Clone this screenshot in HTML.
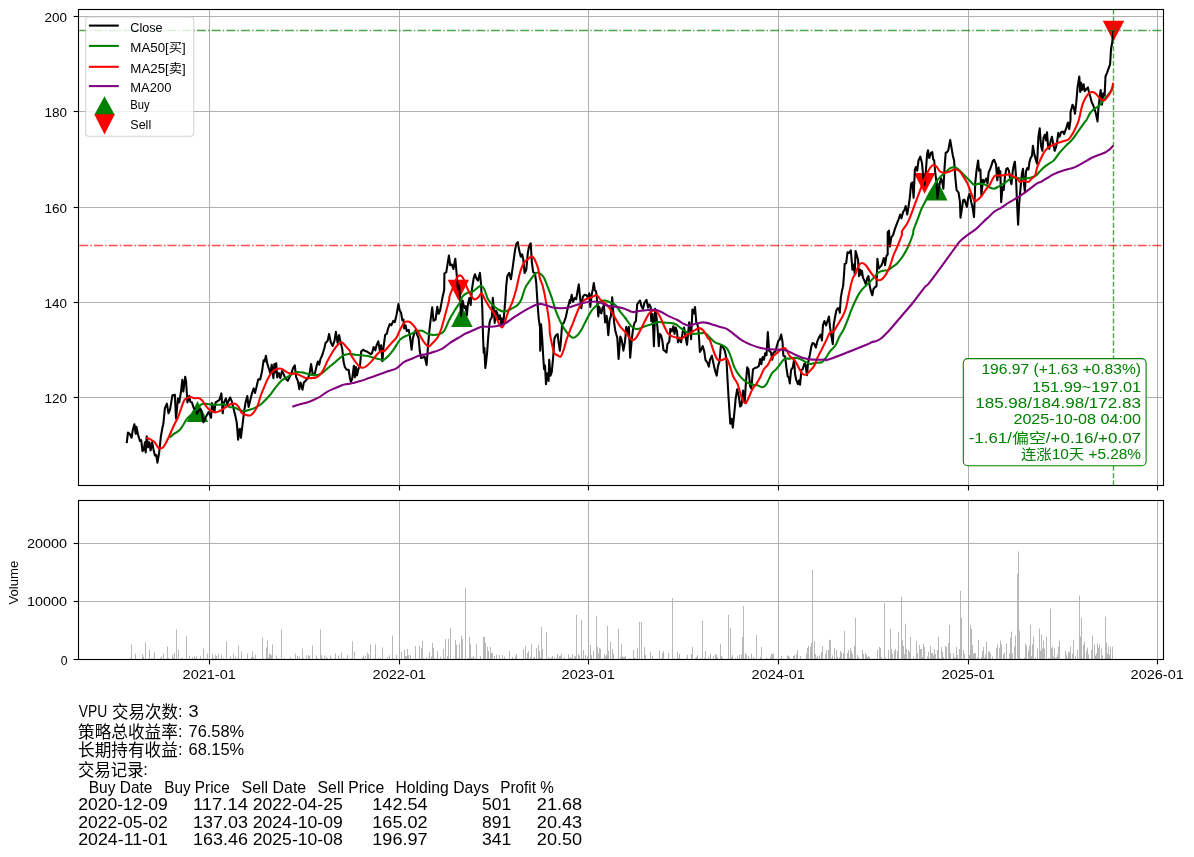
<!DOCTYPE html>
<html lang="zh"><head><meta charset="utf-8"><title>VPU</title>
<style>html,body{margin:0;padding:0;background:#fff}svg{display:block}</style></head>
<body>
<svg width="1194" height="857" viewBox="0 0 1194 857" font-family='"Liberation Sans","Noto Sans CJK SC",sans-serif'>
<rect width="1194" height="857" fill="#fff"/>
<g stroke="#b0b0b0" stroke-width="1" fill="none">
<path d="M209.5 9.5V485.5"/>
<path d="M399.5 9.5V485.5"/>
<path d="M588.5 9.5V485.5"/>
<path d="M778.5 9.5V485.5"/>
<path d="M968.5 9.5V485.5"/>
<path d="M1157.5 9.5V485.5"/>
<path d="M78.5 16.5H1163.5"/>
<path d="M78.5 111.5H1163.5"/>
<path d="M78.5 207.5H1163.5"/>
<path d="M78.5 302.5H1163.5"/>
<path d="M78.5 397.5H1163.5"/>
<path d="M209.5 500.5V659.5"/>
<path d="M399.5 500.5V659.5"/>
<path d="M588.5 500.5V659.5"/>
<path d="M778.5 500.5V659.5"/>
<path d="M968.5 500.5V659.5"/>
<path d="M1157.5 500.5V659.5"/>
<path d="M78.5 543.5H1163.5"/>
<path d="M78.5 601.5H1163.5"/>
</g>
<path d="M186.8 421.9L197.5 401.1L208.2 421.9Z" fill="#008000"/>
<path d="M451.2 326.9L461.9 306.1L472.6 326.9Z" fill="#008000"/>
<path d="M926.1 200.4L936.8 179.6L947.5 200.4Z" fill="#008000"/>
<path d="M447.7 279.8L458.4 300.6L469.1 279.8Z" fill="#ff0000"/>
<path d="M913.9 173.0L924.6 193.8L935.3 173.0Z" fill="#ff0000"/>
<path d="M1102.8 20.7L1113.5 41.5L1124.2 20.7Z" fill="#ff0000"/>
<g fill="none" stroke-linejoin="round" stroke-linecap="butt" stroke-width="2.08">
<path d="M126.7 443.2 L128.0 432.5 L129.6 433.8 L131.6 437.7 L132.8 430.0 L134.4 424.2 L135.7 433.8 L136.4 426.8 L138.0 434.5 L139.9 440.9 L141.2 440.2 L142.5 451.1 L143.7 449.9 L145.0 442.2 L145.7 452.4 L146.7 436.4 L148.2 447.3 L149.3 442.2 L150.6 450.5 L152.1 442.2 L153.6 449.9 L154.9 455.6 L156.3 455.0 L157.4 462.7 L159.2 452.4 L160.8 437.0 L162.1 429.3 L163.4 423.5 L164.9 408.1 L166.9 403.6 L168.5 413.3 L170.1 409.4 L172.4 395.3 L174.9 394.9 L176.0 418.4 L178.0 398.5 L179.3 402.4 L181.0 391.5 L182.3 379.9 L183.3 391.5 L185.2 376.7 L186.1 381.8 L187.4 402.4 L189.3 395.9 L190.3 401.7 L191.9 402.4 L193.8 408.1 L195.7 409.4 L197.0 413.9 L198.3 411.3 L200.2 408.8 L201.5 411.3 L203.4 422.3 L205.4 417.8 L208.6 412.0 L211.1 417.8 L211.9 403.0 L213.7 409.4 L214.4 412.0 L215.6 402.4 L217.6 401.1 L219.5 399.8 L221.4 393.4 L222.7 413.3 L224.0 402.4 L225.9 398.5 L227.2 404.3 L230.1 397.5 L231.7 401.1 L233.6 408.8 L235.5 416.5 L236.8 422.9 L238.1 439.6 L239.4 429.3 L240.0 428.8 L240.9 437.8 L242.8 422.4 L244.4 409.6 L245.7 401.9 L247.3 396.1 L248.6 407.0 L250.5 399.3 L252.1 392.9 L253.7 388.4 L255.0 392.9 L256.3 387.8 L258.2 379.4 L260.2 379.4 L262.1 371.1 L263.6 360.2 L264.7 361.5 L265.9 355.7 L267.2 363.4 L269.2 369.8 L270.4 373.6 L271.7 364.7 L273.4 378.1 L274.3 364.0 L275.2 372.4 L276.2 363.4 L277.2 377.5 L278.8 373.0 L280.3 378.1 L282.0 371.1 L283.7 374.3 L285.2 378.1 L287.8 380.7 L289.7 376.9 L291.6 372.4 L293.2 367.9 L294.8 365.3 L296.1 376.9 L298.0 381.3 L299.3 389.1 L300.6 382.6 L302.5 389.7 L303.8 382.6 L305.7 380.7 L308.3 377.5 L309.8 372.4 L311.1 364.0 L312.8 374.9 L314.7 374.3 L316.6 365.9 L317.9 361.5 L319.2 364.7 L320.5 358.9 L321.8 356.3 L322.7 353.7 L324.4 348.0 L325.6 342.8 L327.6 340.9 L329.1 333.9 L330.8 342.2 L332.7 346.0 L334.6 340.3 L335.9 331.9 L337.6 342.8 L339.1 335.1 L340.7 342.8 L342.3 349.3 L343.6 362.1 L344.9 367.2 L346.8 369.8 L348.7 369.8 L350.0 378.8 L350.9 381.8 L352.2 378.6 L353.9 365.7 L354.8 377.3 L356.0 367.0 L356.9 375.4 L358.6 368.3 L359.9 367.0 L361.2 351.6 L363.1 349.7 L365.0 351.0 L367.0 351.6 L368.9 352.9 L370.8 354.2 L372.1 352.9 L373.6 347.1 L375.3 350.3 L376.6 345.2 L378.3 341.3 L379.8 350.3 L381.1 345.2 L382.4 361.2 L383.6 346.5 L385.2 334.9 L386.9 333.6 L388.1 328.5 L389.8 324.0 L391.3 325.3 L393.3 320.8 L394.9 322.1 L396.5 315.0 L398.4 304.1 L399.7 310.5 L401.0 312.5 L402.3 320.2 L403.5 319.5 L404.2 328.5 L405.5 325.3 L406.8 331.1 L408.7 329.8 L410.0 336.9 L411.6 349.7 L412.9 338.1 L414.2 333.6 L415.7 329.8 L417.0 334.3 L418.6 338.1 L419.8 351.0 L421.1 358.0 L422.8 357.4 L424.7 356.8 L426.6 365.1 L427.9 347.8 L429.2 332.4 L430.5 320.8 L432.2 307.3 L433.5 320.8 L435.6 319.5 L437.3 306.7 L438.6 313.7 L440.1 310.5 L441.7 301.6 L442.7 296.4 L444.2 290.0 L444.4 273.5 L446.3 272.2 L447.6 263.9 L448.9 255.5 L450.2 265.2 L451.8 264.5 L453.4 269.0 L455.3 258.7 L456.6 273.5 L457.9 288.9 L459.2 285.7 L460.1 299.2 L461.1 315.9 L462.6 300.5 L464.3 308.2 L465.6 306.2 L466.9 315.2 L467.8 305.0 L469.4 297.9 L470.7 305.0 L472.0 288.9 L473.7 278.0 L474.9 274.2 L476.5 278.6 L478.0 280.6 L479.9 272.9 L481.0 283.8 L482.3 308.2 L483.1 338.5 L483.7 352.6 L484.4 348.1 L485.3 368.0 L486.3 360.3 L487.2 351.3 L488.2 337.2 L489.5 323.1 L490.3 319.7 L491.9 317.2 L492.8 297.9 L493.8 309.5 L494.7 322.9 L496.0 310.7 L497.3 313.3 L498.6 319.1 L499.8 315.2 L501.1 323.6 L502.2 318.4 L503.2 324.9 L504.1 314.6 L505.4 299.2 L506.3 285.1 L507.3 276.1 L509.2 272.9 L510.9 279.3 L512.2 270.9 L513.5 261.3 L515.0 250.4 L516.3 244.0 L517.8 242.1 L519.1 249.8 L520.8 256.8 L522.1 254.3 L523.3 259.4 L524.6 272.9 L526.3 269.7 L527.8 253.0 L529.1 245.9 L530.7 243.3 L531.9 262.6 L533.2 272.2 L534.9 272.9 L536.2 282.5 L537.5 303.0 L538.7 318.4 L540.0 327.4 L540.2 350.7 L541.1 324.4 L542.2 338.5 L543.2 356.5 L544.1 369.3 L545.0 365.5 L546.0 384.1 L547.3 373.2 L548.6 380.9 L549.2 359.7 L550.5 375.7 L551.8 371.9 L553.1 357.8 L554.4 338.5 L556.0 335.3 L557.6 334.0 L558.8 343.6 L559.9 350.7 L560.8 342.4 L562.1 324.4 L564.0 322.5 L565.9 316.7 L567.8 307.7 L569.8 300.0 L570.1 303.0 L571.7 294.7 L573.0 301.8 L574.9 297.9 L576.2 299.2 L577.5 291.5 L578.8 284.4 L580.1 297.9 L581.3 308.2 L582.9 296.6 L584.6 294.7 L586.5 295.3 L588.0 297.9 L589.3 293.4 L590.3 306.9 L591.6 295.3 L592.9 288.9 L593.8 283.1 L594.8 290.2 L596.1 291.5 L597.4 303.0 L598.3 316.5 L599.3 306.9 L600.0 309.5 L601.3 313.4 L602.6 307.6 L603.9 305.7 L605.1 322.4 L606.7 315.9 L608.3 335.2 L609.6 319.8 L610.9 315.9 L612.2 297.3 L613.1 309.5 L614.1 322.4 L615.4 331.3 L617.3 337.8 L618.6 358.9 L620.3 336.5 L621.8 340.3 L623.4 350.6 L625.0 341.6 L626.3 326.9 L627.6 333.9 L628.9 326.9 L630.2 357.7 L631.8 339.1 L633.1 328.8 L634.4 323.0 L635.9 321.1 L637.2 304.4 L638.5 302.5 L640.1 300.5 L641.3 305.7 L643.0 308.9 L644.3 303.1 L646.5 299.9 L648.1 307.6 L649.4 304.4 L650.7 307.0 L651.3 321.1 L652.6 314.0 L653.9 346.1 L655.2 308.9 L656.5 317.2 L657.8 331.3 L658.8 346.1 L659.7 333.9 L661.0 335.2 L662.3 340.3 L663.5 350.0 L665.2 351.2 L666.5 352.5 L667.4 344.2 L669.3 341.6 L670.3 328.8 L671.9 331.3 L673.4 326.2 L674.5 333.9 L675.7 327.5 L677.0 331.3 L678.0 342.3 L679.6 337.8 L681.1 342.3 L682.8 331.3 L684.1 327.5 L685.4 336.5 L687.0 344.8 L688.3 331.3 L689.2 322.4 L690.5 330.1 L691.1 339.1 L692.4 309.5 L693.7 313.4 L695.0 307.0 L696.3 322.4 L697.6 324.9 L698.6 331.3 L699.9 351.9 L701.4 349.3 L702.7 346.1 L704.2 351.2 L705.5 360.2 L707.2 362.2 L708.9 366.6 L710.0 359.7 L711.9 355.8 L713.2 362.2 L714.9 369.9 L716.7 375.7 L718.0 366.1 L719.6 360.9 L720.9 345.5 L722.8 346.8 L724.8 350.7 L726.4 358.4 L727.7 382.8 L728.6 398.2 L730.3 423.8 L731.6 418.7 L732.8 427.7 L734.4 412.3 L735.7 398.2 L737.2 389.2 L738.9 396.9 L740.2 406.5 L741.5 405.2 L743.1 390.5 L744.7 402.0 L745.9 382.8 L747.2 367.4 L748.5 369.3 L750.1 386.0 L751.3 388.5 L753.0 369.3 L754.9 368.0 L756.9 367.4 L758.8 366.1 L760.1 359.0 L761.3 364.2 L762.6 357.1 L763.9 359.7 L765.2 353.2 L766.5 355.2 L767.8 332.1 L769.1 350.7 L771.0 352.6 L772.3 359.7 L773.5 352.6 L775.5 351.3 L776.8 346.2 L778.3 341.0 L780.0 339.1 L781.2 334.6 L782.5 341.7 L783.4 355.8 L785.1 356.5 L786.4 367.4 L787.7 376.3 L788.9 377.6 L789.8 383.4 L791.1 369.9 L792.8 367.4 L794.1 359.7 L795.0 373.8 L796.3 380.2 L797.9 384.1 L799.2 380.2 L800.1 384.7 L801.4 369.9 L802.7 369.3 L804.4 363.5 L805.6 364.8 L806.9 375.1 L808.2 362.2 L809.9 354.5 L811.4 346.2 L812.7 343.0 L814.2 343.6 L815.9 347.5 L817.2 341.7 L819.1 337.2 L820.7 334.6 L821.9 340.4 L823.0 325.0 L824.4 321.0 L826.0 325.5 L827.7 320.4 L829.0 316.5 L829.9 326.1 L831.2 335.1 L832.8 344.1 L833.7 324.9 L835.0 317.2 L836.3 310.7 L837.6 308.2 L838.9 308.2 L839.8 312.7 L840.8 297.9 L842.1 290.2 L843.1 286.3 L844.0 274.8 L844.7 263.9 L846.2 263.2 L847.5 252.3 L849.2 253.0 L850.8 250.4 L851.7 260.7 L852.4 269.7 L853.6 264.5 L854.7 273.5 L855.6 251.0 L856.9 255.5 L858.1 260.0 L859.0 276.1 L860.3 269.7 L861.3 274.8 L862.0 270.9 L862.9 277.4 L864.6 281.2 L865.8 284.4 L867.1 278.6 L868.4 276.1 L869.7 285.7 L871.0 291.5 L872.3 295.3 L873.5 288.9 L875.2 287.0 L876.5 286.3 L877.4 258.7 L878.7 268.4 L880.0 267.1 L881.2 265.8 L882.5 262.6 L883.8 258.1 L885.1 265.2 L886.4 256.2 L887.7 254.3 L887.7 232.4 L889.0 230.5 L889.9 246.5 L891.2 237.6 L893.1 235.0 L895.0 228.6 L897.0 223.4 L898.5 219.6 L900.2 214.5 L901.5 218.3 L903.1 211.9 L904.4 210.0 L905.7 206.1 L907.2 214.5 L908.5 206.8 L909.8 197.8 L911.1 183.6 L912.4 182.4 L913.6 197.8 L914.9 169.5 L916.0 167.0 L917.2 170.8 L918.5 160.5 L920.3 156.7 L922.0 163.1 L923.3 177.2 L924.6 184.9 L925.8 172.1 L927.1 154.1 L928.0 150.3 L929.3 158.0 L931.0 152.8 L932.3 152.2 L933.2 159.3 L934.2 160.5 L935.2 172.1 L936.5 182.4 L937.4 198.4 L938.7 188.8 L940.0 182.4 L941.2 178.5 L942.5 183.6 L943.4 188.8 L944.5 168.2 L945.7 152.8 L947.0 152.2 L948.3 150.3 L950.2 140.0 L951.5 147.7 L952.8 155.4 L954.1 160.5 L955.4 178.5 L956.6 190.1 L958.6 192.6 L959.9 201.6 L960.5 217.7 L961.8 209.3 L963.1 200.3 L964.4 199.7 L965.6 202.9 L966.9 206.8 L968.2 197.8 L969.5 193.9 L971.4 202.9 L972.7 208.0 L974.0 217.0 L975.3 182.4 L976.5 170.8 L978.1 160.5 L979.1 170.8 L980.4 169.5 L981.4 195.2 L983.0 179.8 L984.2 182.4 L986.2 178.5 L987.5 183.6 L988.7 172.1 L990.0 169.5 L991.6 164.9 L992.8 161.1 L994.1 159.8 L996.0 164.3 L997.3 180.3 L998.6 167.5 L999.5 176.5 L1000.3 171.3 L1001.2 202.2 L1002.5 186.8 L1003.7 190.0 L1005.0 176.5 L1006.3 168.8 L1007.6 168.1 L1008.9 170.7 L1010.2 179.7 L1011.5 184.2 L1012.7 171.3 L1014.0 164.3 L1014.9 161.7 L1015.9 175.2 L1016.8 197.0 L1017.5 212.4 L1018.1 224.6 L1019.2 203.4 L1020.4 189.3 L1021.7 175.2 L1023.0 168.8 L1023.9 182.9 L1024.9 191.9 L1026.0 171.3 L1027.2 168.1 L1028.5 169.4 L1029.4 162.4 L1030.7 157.9 L1032.0 155.9 L1032.9 145.7 L1034.2 153.4 L1035.8 159.8 L1037.1 163.6 L1038.4 136.7 L1039.7 128.3 L1041.0 145.7 L1042.3 150.8 L1043.5 138.0 L1044.8 134.8 L1046.1 140.5 L1047.0 132.2 L1048.0 145.7 L1049.3 148.9 L1050.6 141.2 L1051.9 136.7 L1053.2 143.7 L1054.7 150.8 L1056.0 147.0 L1057.0 142.5 L1058.3 132.8 L1059.6 136.7 L1061.1 132.2 L1062.8 131.6 L1064.1 134.1 L1065.4 130.3 L1066.6 127.1 L1067.9 122.6 L1069.2 129.0 L1070.5 120.0 L1070.5 112.4 L1072.5 104.7 L1073.7 107.3 L1075.0 113.7 L1076.3 102.2 L1077.6 86.8 L1079.3 76.5 L1080.2 91.9 L1081.1 82.9 L1082.1 90.0 L1083.6 84.2 L1084.7 91.2 L1086.2 89.3 L1087.9 87.4 L1089.2 93.2 L1090.4 97.0 L1091.7 102.2 L1093.0 104.7 L1094.3 108.6 L1095.6 112.4 L1097.5 121.4 L1098.5 107.3 L1099.8 97.0 L1100.7 90.0 L1102.0 104.7 L1103.3 93.2 L1104.6 95.7 L1105.5 76.5 L1107.1 72.6 L1108.4 68.8 L1110.1 64.3 L1111.0 49.5 L1112.3 41.8 L1113.2 30.9" stroke="#000"/>
<path d="M169.4 437.7 C170.2 437.0 172.3 435.0 173.9 433.8 C175.5 432.6 177.6 432.0 179.1 430.6 C180.5 429.2 181.6 427.4 182.9 425.5 C184.2 423.5 185.3 421.0 186.8 419.1 C188.2 417.1 190.2 415.6 191.9 413.9 C193.6 412.2 195.4 410.4 197.0 408.8 C198.6 407.2 200.0 405.1 201.5 404.3 C203.0 403.5 204.2 403.8 206.0 403.9 C207.8 404.0 210.3 404.5 212.4 404.7 C214.6 404.8 216.9 404.7 218.8 404.7 C220.8 404.6 222.3 403.9 224.0 404.3 C225.7 404.7 227.4 406.3 229.1 406.9 C230.8 407.4 232.4 407.0 234.2 407.5 C236.1 408.0 238.4 409.5 240.0 410.1 C241.7 410.7 242.4 411.2 244.1 411.1 C245.9 411.1 248.4 410.3 250.5 409.6 C252.7 408.9 255.0 407.8 257.0 406.8 C258.9 405.7 260.2 404.8 262.1 403.2 C264.0 401.5 266.4 399.2 268.5 396.8 C270.7 394.3 272.8 391.1 274.9 388.4 C277.1 385.7 279.4 382.5 281.3 380.7 C283.3 378.9 284.8 378.6 286.5 377.5 C288.2 376.4 289.9 375.2 291.6 374.3 C293.3 373.4 295.0 372.4 296.8 372.1 C298.5 371.8 300.2 372.1 301.9 372.4 C303.6 372.6 305.3 373.2 307.0 373.6 C308.7 374.1 310.4 374.7 312.2 374.9 C313.9 375.1 315.6 375.3 317.3 374.9 C319.0 374.6 320.5 374.3 322.4 373.0 C324.4 371.7 326.7 369.0 328.8 367.2 C331.0 365.4 333.3 363.7 335.3 362.1 C337.2 360.5 338.9 358.8 340.4 357.6 C341.9 356.4 342.6 355.7 344.2 355.0 C345.9 354.4 348.2 353.8 350.0 353.7 C351.9 353.7 353.4 354.6 355.4 354.8 C357.4 355.1 359.7 355.0 361.8 355.2 C364.0 355.4 366.1 355.6 368.2 356.1 C370.4 356.6 372.7 357.5 374.7 358.0 C376.6 358.6 378.3 359.0 379.8 359.3 C381.3 359.6 382.1 360.6 383.6 360.0 C385.1 359.3 387.1 357.3 388.8 355.5 C390.5 353.6 392.0 351.7 393.9 349.1 C395.8 346.4 398.2 341.7 400.3 339.4 C402.5 337.2 404.8 336.5 406.8 335.6 C408.7 334.6 410.2 334.4 411.9 333.6 C413.6 332.9 415.3 331.5 417.0 331.1 C418.7 330.6 420.4 330.4 422.2 330.8 C423.9 331.2 425.6 333.0 427.3 333.6 C429.0 334.3 430.5 334.8 432.4 334.9 C434.4 335.0 436.9 334.9 438.8 334.3 C440.8 333.6 442.3 333.4 444.0 331.1 C445.7 328.7 447.4 323.5 449.1 320.2 C450.8 316.9 452.4 314.2 454.2 311.2 C456.1 308.2 458.7 304.6 460.0 302.2 C461.4 299.8 461.1 298.2 462.4 296.6 C463.6 295.0 465.8 293.6 467.5 292.8 C469.2 291.9 470.9 292.3 472.6 291.5 C474.3 290.6 476.4 288.6 477.8 287.6 C479.2 286.7 479.9 285.5 481.0 285.7 C482.0 285.9 483.0 286.7 484.2 288.9 C485.4 291.2 486.5 296.4 488.0 299.2 C489.5 302.0 491.5 303.9 493.2 305.6 C494.9 307.3 496.6 308.4 498.3 309.5 C500.0 310.5 501.9 311.4 503.4 311.6 C504.9 311.9 505.8 311.3 507.3 310.7 C508.8 310.2 510.7 309.1 512.4 308.2 C514.1 307.2 516.1 306.5 517.6 305.0 C519.1 303.5 520.1 302.1 521.4 299.2 C522.7 296.3 523.8 290.8 525.3 287.6 C526.8 284.4 528.9 282.1 530.4 279.9 C531.9 277.8 533.1 276.0 534.2 274.8 C535.4 273.6 536.3 272.6 537.5 272.5 C538.6 272.4 539.8 273.2 540.9 274.2 C542.0 275.1 542.9 275.8 544.1 278.0 C545.3 280.3 546.7 284.3 548.0 287.6 C549.3 290.9 550.5 294.1 551.8 297.9 C553.1 301.8 554.4 307.1 555.7 310.7 C557.0 314.4 558.2 316.9 559.5 319.7 C560.8 322.5 561.9 325.0 563.4 327.4 C564.9 329.9 566.9 332.8 568.5 334.5 C570.1 336.2 571.6 337.5 573.0 337.7 C574.4 337.9 575.5 337.1 576.9 335.8 C578.2 334.5 579.7 332.7 581.3 330.0 C583.0 327.3 584.8 322.9 586.5 319.7 C588.2 316.5 589.9 313.1 591.6 310.7 C593.3 308.3 595.4 306.8 596.8 305.3 C598.1 303.9 598.6 302.6 600.0 301.8 C601.4 301.0 603.4 300.4 605.1 300.5 C606.8 300.6 608.6 301.7 610.3 302.5 C612.0 303.2 613.7 303.4 615.4 305.0 C617.1 306.6 618.8 309.8 620.5 312.1 C622.3 314.3 624.0 316.3 625.7 318.5 C627.4 320.8 629.2 323.9 630.8 325.6 C632.4 327.3 633.8 328.3 635.3 328.8 C636.8 329.3 638.2 329.0 639.8 328.5 C641.4 328.1 643.0 326.9 644.9 326.2 C646.9 325.5 649.2 325.0 651.3 324.3 C653.5 323.6 655.6 322.4 657.8 322.1 C659.9 321.8 662.0 322.5 664.2 322.6 C666.3 322.8 668.7 322.7 670.6 323.0 C672.5 323.3 674.0 323.4 675.7 324.3 C677.4 325.1 678.9 326.7 680.9 328.1 C682.8 329.5 685.2 331.7 687.3 332.6 C689.4 333.6 691.6 333.8 693.7 333.9 C695.8 334.0 698.2 333.4 700.1 333.3 C702.1 333.2 703.6 332.5 705.3 333.3 C706.9 334.0 708.4 336.3 710.0 337.8 C711.6 339.3 713.2 341.2 715.1 342.3 C717.1 343.5 719.6 343.9 721.6 344.9 C723.5 345.9 725.2 346.3 726.7 348.1 C728.2 349.9 729.3 352.6 730.5 355.8 C731.8 359.0 732.9 364.0 734.4 367.4 C735.9 370.7 737.8 373.5 739.5 375.7 C741.2 378.0 742.7 379.4 744.7 380.8 C746.6 382.3 748.9 383.6 751.1 384.3 C753.2 385.1 755.6 384.8 757.5 385.3 C759.4 385.8 761.1 387.5 762.6 387.3 C764.1 387.0 765.0 386.3 766.5 384.1 C768.0 381.8 769.9 376.3 771.6 373.8 C773.3 371.2 775.3 370.4 776.8 368.6 C778.2 366.9 779.3 365.1 780.6 363.5 C781.9 361.9 783.0 359.8 784.5 359.0 C786.0 358.2 787.9 358.8 789.6 358.6 C791.3 358.4 793.0 357.7 794.7 357.7 C796.4 357.8 798.1 358.4 799.9 359.0 C801.6 359.7 803.3 360.8 805.0 361.6 C806.7 362.4 808.4 363.7 810.1 363.9 C811.8 364.1 813.3 363.1 815.3 362.9 C817.2 362.6 820.0 363.0 821.7 362.2 C823.4 361.5 824.1 360.2 825.5 358.4 C826.9 356.6 828.3 353.5 830.0 351.3 C831.7 349.1 834.1 347.5 835.7 345.0 C837.3 342.5 838.2 338.9 839.5 336.4 C840.8 333.9 842.1 332.6 843.4 330.0 C844.7 327.4 845.9 324.2 847.2 321.0 C848.5 317.8 849.8 313.9 851.1 310.7 C852.4 307.5 853.6 304.5 854.9 301.8 C856.2 299.0 857.5 296.2 858.8 294.1 C860.1 291.9 861.1 290.6 862.6 288.9 C864.1 287.2 866.1 285.5 867.8 283.8 C869.5 282.1 871.2 280.5 872.9 278.6 C874.6 276.8 876.3 274.2 878.0 272.9 C879.7 271.5 881.6 271.1 883.2 270.7 C884.8 270.3 886.2 270.9 887.7 270.3 C889.2 269.7 890.6 268.3 892.2 267.1 C893.8 265.9 895.6 265.0 897.3 263.2 C899.0 261.5 900.7 259.4 902.4 256.8 C904.1 254.3 905.8 251.5 907.6 247.8 C909.3 244.2 911.7 238.0 912.7 235.0 C913.7 232.0 912.8 232.4 913.6 229.9 C914.4 227.3 916.2 223.0 917.5 219.6 C918.8 216.2 920.1 212.3 921.3 209.3 C922.6 206.3 923.9 204.2 925.2 201.6 C926.5 199.1 927.8 196.3 929.1 193.9 C930.3 191.6 931.6 189.6 932.9 187.5 C934.2 185.4 935.5 182.9 936.8 181.1 C938.0 179.3 939.1 178.1 940.6 176.6 C942.1 175.1 944.1 173.5 945.7 172.1 C947.3 170.7 948.7 169.0 950.2 168.2 C951.7 167.4 953.3 167.1 954.7 167.3 C956.1 167.6 957.1 168.3 958.6 169.5 C960.1 170.7 962.0 172.9 963.7 174.7 C965.4 176.4 967.1 178.1 968.8 179.8 C970.6 181.5 972.3 184.0 974.0 184.7 C975.7 185.3 977.4 183.7 979.1 183.6 C980.8 183.6 982.4 183.6 984.2 184.3 C986.1 184.9 988.4 186.8 990.0 187.5 C991.7 188.2 992.6 188.9 994.1 188.7 C995.7 188.4 997.3 187.2 999.3 186.1 C1001.2 185.0 1003.7 183.5 1005.7 182.3 C1007.6 181.0 1009.1 179.2 1010.8 178.4 C1012.5 177.6 1014.2 177.4 1015.9 177.5 C1017.7 177.6 1019.4 178.6 1021.1 178.8 C1022.8 178.9 1024.5 178.6 1026.2 178.4 C1027.9 178.2 1029.6 178.0 1031.3 177.5 C1033.1 177.0 1034.8 176.5 1036.5 175.2 C1038.2 173.9 1039.7 171.2 1041.6 169.4 C1043.5 167.6 1046.0 165.8 1048.0 164.3 C1050.1 162.8 1051.9 162.4 1053.8 160.4 C1055.7 158.5 1057.6 155.2 1059.6 152.7 C1061.6 150.3 1063.9 147.9 1066.0 145.7 C1068.1 143.4 1070.3 141.8 1072.4 139.3 C1074.6 136.7 1076.7 133.3 1078.8 130.3 C1081.0 127.3 1084.0 123.0 1085.3 121.3 C1086.5 119.6 1085.8 121.3 1086.5 120.0 C1087.3 118.7 1088.6 115.5 1089.8 113.7 C1091.0 111.9 1092.1 110.5 1093.6 109.2 C1095.1 107.9 1097.1 107.6 1098.8 106.0 C1100.5 104.4 1102.4 101.4 1103.9 99.6 C1105.4 97.8 1106.6 96.5 1107.8 95.1 C1108.9 93.7 1110.1 92.5 1111.0 91.2 C1111.9 90.0 1112.8 88.0 1113.2 87.4" stroke="#008000"/>
<path d="M146.3 437.7 C147.1 438.0 149.4 438.8 150.8 439.6 C152.2 440.3 153.4 440.8 154.7 442.2 C155.9 443.5 157.2 447.0 158.5 447.9 C159.8 448.9 161.3 448.5 162.4 447.9 C163.4 447.4 163.9 446.5 164.9 444.7 C166.0 442.9 167.3 440.2 168.8 437.0 C170.3 433.8 172.4 428.7 173.9 425.5 C175.4 422.3 176.6 420.5 177.8 417.8 C178.9 415.0 179.9 411.7 181.0 408.8 C182.0 405.9 183.1 402.3 184.2 400.4 C185.3 398.6 186.3 398.4 187.4 397.9 C188.5 397.3 189.4 396.9 190.6 397.0 C191.8 397.0 193.2 398.1 194.5 398.3 C195.7 398.4 197.0 397.8 198.3 398.1 C199.6 398.5 200.9 399.1 202.2 400.4 C203.4 401.8 204.7 404.6 206.0 406.2 C207.3 407.8 208.4 409.0 209.9 410.1 C211.4 411.1 213.3 412.3 215.0 412.4 C216.7 412.5 218.4 411.5 220.1 410.7 C221.8 409.9 223.6 408.6 225.3 407.5 C227.0 406.4 228.9 404.9 230.4 404.3 C231.9 403.6 233.1 403.4 234.2 403.6 C235.4 403.9 236.5 404.6 237.5 405.6 C238.4 406.5 239.3 408.2 240.0 409.4 C240.7 410.6 240.7 411.9 241.6 412.8 C242.4 413.7 243.9 414.3 245.4 414.7 C246.9 415.2 249.0 415.9 250.5 415.4 C252.0 414.8 253.2 413.1 254.4 411.5 C255.6 409.9 256.5 408.4 257.6 405.7 C258.7 403.1 259.6 398.8 260.8 395.5 C262.0 392.2 263.4 388.8 264.7 385.8 C265.9 382.8 267.2 379.9 268.5 377.5 C269.8 375.1 271.1 373.1 272.4 371.7 C273.6 370.3 274.7 369.6 276.2 369.2 C277.7 368.7 279.9 368.4 281.3 368.8 C282.8 369.1 283.7 370.3 285.2 371.1 C286.7 371.9 288.6 373.2 290.3 373.6 C292.0 374.1 293.8 373.3 295.5 373.6 C297.2 374.0 298.9 374.8 300.6 375.6 C302.3 376.3 304.0 377.7 305.7 378.1 C307.4 378.6 309.2 378.2 310.9 378.1 C312.6 378.0 314.5 378.0 316.0 377.5 C317.5 377.0 318.6 376.3 319.9 374.9 C321.1 373.5 322.4 371.5 323.7 369.2 C325.0 366.8 326.1 363.7 327.6 360.8 C329.1 357.9 331.0 354.5 332.7 351.8 C334.4 349.1 336.3 346.4 337.8 344.8 C339.3 343.2 340.4 342.0 341.7 342.2 C343.0 342.4 344.1 344.5 345.5 346.0 C346.9 347.5 349.2 349.9 350.0 351.2 C350.8 352.4 349.6 352.1 350.3 353.5 C351.0 355.0 352.6 357.8 354.1 360.0 C355.6 362.1 357.8 365.1 359.3 366.4 C360.8 367.7 361.8 367.8 363.1 367.7 C364.4 367.6 365.5 366.9 367.0 365.7 C368.5 364.6 370.4 362.5 372.1 360.6 C373.8 358.7 375.7 355.8 377.2 354.2 C378.7 352.6 379.9 351.5 381.1 351.0 C382.3 350.4 383.2 351.5 384.3 351.0 C385.4 350.4 386.3 349.1 387.5 347.8 C388.7 346.5 389.9 345.0 391.3 343.3 C392.8 341.6 395.0 339.9 396.5 337.5 C398.0 335.1 399.1 331.6 400.3 329.2 C401.6 326.7 403.0 324.0 404.2 322.7 C405.4 321.5 406.4 321.6 407.4 321.5 C408.4 321.3 408.8 321.2 410.0 322.1 C411.1 322.9 413.1 324.9 414.5 326.6 C415.8 328.3 416.8 329.9 418.3 332.4 C419.8 334.8 421.7 339.0 423.4 341.3 C425.2 343.7 427.1 346.2 428.6 346.5 C430.1 346.8 430.9 344.8 432.4 343.3 C433.9 341.8 436.1 340.0 437.6 337.5 C439.1 335.0 440.1 332.4 441.4 328.5 C442.7 324.7 444.0 319.1 445.3 314.4 C446.5 309.7 448.4 303.2 449.1 300.3 C449.8 297.3 448.8 298.9 449.5 296.6 C450.2 294.3 452.1 289.6 453.4 286.3 C454.7 283.1 456.1 279.2 457.2 277.4 C458.3 275.5 459.1 275.3 460.1 275.4 C461.0 275.5 462.0 276.3 463.0 278.0 C464.0 279.7 465.0 283.0 466.2 285.7 C467.4 288.4 468.8 291.8 470.1 294.1 C471.3 296.3 472.6 298.5 473.9 299.2 C475.2 299.8 476.5 298.9 477.8 297.9 C479.1 296.9 480.4 293.2 481.6 293.4 C482.8 293.6 483.5 296.9 484.8 299.2 C486.1 301.4 487.7 304.4 489.3 306.9 C490.9 309.3 492.8 311.2 494.5 313.9 C496.1 316.7 497.7 321.3 498.9 323.6 C500.2 325.8 501.2 327.6 502.2 327.4 C503.1 327.2 503.7 325.1 504.7 322.3 C505.8 319.5 507.3 314.2 508.6 310.7 C509.9 307.3 511.1 305.4 512.4 301.8 C513.7 298.1 515.0 293.8 516.3 288.9 C517.6 284.0 518.8 276.6 520.1 272.2 C521.4 267.8 522.6 264.8 524.0 262.6 C525.4 260.4 527.1 259.8 528.5 258.7 C529.8 257.7 530.9 256.0 531.9 256.2 C533.0 256.4 533.9 258.0 534.9 260.0 C535.9 262.1 537.2 265.3 538.1 268.4 C539.0 271.5 539.2 275.7 540.0 278.6 C540.8 281.6 541.8 282.5 542.8 286.3 C543.8 290.2 545.0 295.8 546.0 301.8 C547.1 307.7 548.6 317.0 549.3 322.3 C549.9 327.6 549.3 329.4 549.9 333.4 C550.4 337.4 551.7 342.9 552.4 346.2 C553.2 349.5 553.5 351.8 554.4 353.3 C555.2 354.8 556.5 354.7 557.6 355.2 C558.6 355.7 559.7 357.6 560.8 356.5 C561.8 355.4 563.0 351.6 564.0 348.8 C564.9 346.0 565.6 342.8 566.5 339.8 C567.5 336.8 568.7 333.6 569.8 330.8 C570.8 328.0 571.9 325.8 573.0 323.1 C574.0 320.4 575.0 317.5 576.2 314.6 C577.4 311.7 578.8 308.0 580.1 305.6 C581.3 303.2 582.6 301.6 583.9 300.5 C585.2 299.3 586.3 299.2 587.8 298.5 C589.3 297.9 591.5 297.2 592.9 296.6 C594.3 296.0 595.0 294.9 596.1 295.1 C597.2 295.3 598.7 297.2 599.3 297.9 C600.0 298.6 599.0 298.4 600.0 299.3 C601.0 300.1 603.4 301.4 605.1 303.1 C606.8 304.8 608.6 307.0 610.3 309.5 C612.0 312.1 613.7 315.6 615.4 318.5 C617.1 321.4 618.8 324.5 620.5 326.9 C622.3 329.2 624.1 330.7 625.7 332.6 C627.3 334.6 628.9 337.2 630.2 338.4 C631.5 339.6 632.3 340.3 633.4 340.1 C634.4 339.9 635.3 339.0 636.6 337.1 C637.9 335.2 639.7 331.5 641.1 328.8 C642.5 326.1 643.6 323.5 644.9 321.1 C646.2 318.6 647.5 315.7 648.8 314.0 C650.1 312.3 651.3 311.2 652.6 310.8 C653.9 310.4 655.2 310.4 656.5 311.5 C657.8 312.5 659.1 314.8 660.3 317.2 C661.6 319.7 662.9 323.5 664.2 326.2 C665.5 328.9 666.8 331.6 668.0 333.3 C669.3 334.9 670.4 335.5 671.9 336.2 C673.4 337.0 675.4 337.4 677.0 337.8 C678.6 338.1 680.0 338.8 681.5 338.4 C683.0 338.0 684.6 336.1 686.0 335.2 C687.4 334.3 688.4 334.1 689.9 333.3 C691.4 332.4 693.4 330.9 695.0 330.1 C696.6 329.2 698.0 327.9 699.5 328.1 C701.0 328.4 702.6 329.7 704.0 331.3 C705.4 333.0 706.8 336.3 707.8 337.8 C708.8 339.3 709.0 338.0 710.0 340.4 C711.0 342.8 712.6 348.7 713.9 352.0 C715.1 355.2 716.3 358.3 717.7 359.7 C719.1 361.0 720.7 360.1 722.2 359.9 C723.7 359.7 725.4 357.6 726.7 358.6 C728.0 359.7 728.8 363.1 729.9 366.1 C731.0 369.0 731.8 373.4 733.1 376.3 C734.4 379.3 736.2 380.6 737.6 384.1 C739.0 387.5 740.2 393.7 741.5 396.9 C742.7 400.1 744.1 403.1 745.3 403.3 C746.5 403.5 747.3 400.5 748.5 398.2 C749.7 395.8 751.1 391.5 752.4 389.2 C753.6 386.8 754.9 386.0 756.2 384.1 C757.5 382.1 758.8 380.1 760.1 377.6 C761.3 375.2 762.6 371.4 763.9 369.3 C765.2 367.1 766.5 366.7 767.8 364.8 C769.1 362.9 770.1 359.7 771.6 357.7 C773.1 355.8 775.0 354.7 776.8 353.2 C778.5 351.7 780.4 349.5 781.9 348.7 C783.4 348.0 784.5 347.6 785.7 348.7 C787.0 349.9 788.1 353.9 789.6 355.8 C791.1 357.7 793.2 358.4 794.7 360.3 C796.2 362.2 797.3 365.1 798.6 367.4 C799.9 369.6 801.1 372.6 802.4 373.8 C803.7 375.0 805.0 375.0 806.3 374.4 C807.6 373.9 808.8 372.0 810.1 370.6 C811.4 369.2 812.7 368.3 814.0 366.1 C815.3 363.8 816.5 359.9 817.8 357.1 C819.1 354.3 820.4 352.0 821.7 349.4 C823.0 346.8 824.1 344.5 825.5 341.7 C826.9 338.9 828.7 334.4 830.0 332.7 C831.4 331.0 832.5 332.6 833.7 331.3 C835.0 330.0 836.2 327.2 837.6 324.9 C839.0 322.5 840.7 319.9 842.1 317.2 C843.5 314.4 844.8 312.2 845.9 308.2 C847.1 304.1 848.1 297.6 849.2 292.8 C850.2 288.0 851.3 282.5 852.4 279.3 C853.4 276.1 854.5 275.9 855.6 273.5 C856.6 271.2 857.7 266.9 858.8 265.2 C859.9 263.4 860.8 263.0 862.0 263.0 C863.2 263.0 864.6 263.8 865.8 265.2 C867.1 266.5 868.4 269.1 869.7 270.9 C871.0 272.8 872.3 274.6 873.5 276.1 C874.8 277.6 876.1 279.3 877.4 279.9 C878.7 280.5 879.9 280.5 881.2 279.7 C882.6 278.8 884.3 276.9 885.7 274.8 C887.1 272.7 888.3 270.3 889.6 267.1 C890.9 263.9 892.2 259.0 893.4 255.5 C894.7 252.1 895.9 250.0 897.3 246.6 C898.7 243.1 901.0 237.6 901.8 235.0 C902.6 232.4 901.2 233.1 902.1 231.1 C903.0 229.2 905.7 226.2 907.2 223.4 C908.7 220.7 909.8 217.7 911.1 214.5 C912.4 211.2 913.6 207.6 914.9 204.2 C916.2 200.8 917.5 197.3 918.8 193.9 C920.1 190.5 921.3 186.9 922.6 183.6 C923.9 180.4 925.2 177.3 926.5 174.7 C927.8 172.0 929.2 169.2 930.3 167.6 C931.5 166.0 932.5 165.1 933.5 165.0 C934.6 164.9 935.7 165.9 936.8 167.0 C937.8 168.0 938.7 170.5 940.0 171.5 C941.2 172.4 943.1 172.6 944.5 172.7 C945.8 172.8 947.0 172.5 948.3 172.1 C949.6 171.7 950.9 170.6 952.2 170.2 C953.4 169.7 954.7 169.3 956.0 169.5 C957.3 169.7 958.6 170.2 959.9 171.5 C961.1 172.7 962.4 175.2 963.7 177.2 C965.0 179.3 966.3 180.9 967.6 183.6 C968.8 186.4 970.2 191.0 971.4 193.9 C972.6 196.8 973.6 200.0 974.6 201.0 C975.7 201.9 976.7 200.5 977.8 199.7 C979.0 198.8 980.4 197.4 981.7 195.8 C983.0 194.2 984.1 192.0 985.5 190.1 C986.9 188.1 989.0 185.8 990.0 184.3 C991.0 182.8 990.8 182.4 991.6 181.0 C992.3 179.6 993.5 176.8 994.8 175.8 C996.0 174.9 997.7 175.6 999.3 175.5 C1000.9 175.3 1002.7 175.4 1004.4 175.2 C1006.1 175.0 1008.0 174.0 1009.5 174.2 C1011.0 174.4 1012.2 175.9 1013.4 176.5 C1014.6 177.1 1015.5 176.9 1016.6 177.8 C1017.7 178.7 1018.6 181.4 1019.8 181.9 C1021.0 182.3 1022.3 180.6 1023.6 180.6 C1025.0 180.6 1026.9 182.1 1028.1 181.9 C1029.4 181.6 1030.2 180.2 1031.3 179.1 C1032.5 177.9 1034.2 177.1 1035.2 175.2 C1036.2 173.3 1036.3 170.1 1037.1 167.5 C1038.0 164.9 1039.2 162.4 1040.3 159.8 C1041.5 157.2 1042.9 154.1 1044.2 152.1 C1045.5 150.1 1046.5 148.8 1048.0 147.6 C1049.5 146.4 1051.5 145.8 1053.2 145.0 C1054.9 144.2 1056.6 143.5 1058.3 142.8 C1060.0 142.2 1061.7 141.8 1063.4 141.2 C1065.2 140.6 1067.1 140.4 1068.6 139.3 C1070.1 138.1 1071.1 136.3 1072.4 134.1 C1073.7 132.0 1075.2 128.8 1076.3 126.4 C1077.3 124.1 1077.9 123.4 1078.8 120.0 C1079.8 116.6 1081.0 109.6 1082.1 106.0 C1083.2 102.4 1084.2 100.3 1085.3 98.3 C1086.4 96.3 1087.4 94.8 1088.5 93.8 C1089.6 92.8 1090.7 92.3 1091.7 92.1 C1092.8 92.0 1093.9 92.2 1094.9 92.9 C1096.0 93.6 1097.1 95.3 1098.1 96.4 C1099.2 97.5 1100.3 98.9 1101.3 99.6 C1102.4 100.2 1103.5 100.8 1104.6 100.2 C1105.6 99.7 1106.8 97.7 1107.8 96.4 C1108.7 95.1 1109.6 94.0 1110.3 92.5 C1111.1 91.0 1111.8 89.0 1112.3 87.4 C1112.7 85.8 1113.0 83.6 1113.2 82.9" stroke="#ff0000"/>
<path d="M292.3 406.8 C293.4 406.4 296.9 405.2 299.3 404.5 C301.8 403.7 304.7 403.3 307.0 402.5 C309.4 401.8 311.3 400.9 313.4 400.0 C315.6 399.0 317.7 398.0 319.9 396.8 C322.0 395.5 324.1 393.5 326.3 392.3 C328.4 391.0 330.6 390.0 332.7 389.1 C334.8 388.1 337.2 387.2 339.1 386.5 C341.0 385.7 342.4 385.0 344.2 384.6 C346.1 384.1 348.6 383.9 350.0 383.7 C351.5 383.4 351.1 383.5 352.8 383.1 C354.6 382.6 358.0 381.9 360.5 381.1 C363.1 380.4 365.2 379.4 368.2 378.3 C371.2 377.2 375.1 375.9 378.5 374.7 C381.9 373.5 385.8 372.2 388.8 371.1 C391.8 370.1 393.9 369.8 396.5 368.3 C399.1 366.8 401.6 363.5 404.2 361.9 C406.8 360.3 409.3 359.7 411.9 358.7 C414.5 357.6 417.0 356.3 419.6 355.5 C422.2 354.7 424.7 354.6 427.3 353.9 C429.9 353.3 432.4 352.5 435.0 351.6 C437.6 350.7 440.1 349.9 442.7 348.4 C445.3 346.9 447.5 344.6 450.4 342.6 C453.3 340.7 457.6 338.3 460.0 336.9 C462.4 335.4 462.6 335.0 464.9 333.8 C467.2 332.7 471.1 331.2 473.9 330.0 C476.7 328.8 479.1 327.3 481.6 326.8 C484.2 326.2 486.8 326.9 489.3 326.8 C491.9 326.7 494.5 326.7 497.0 326.1 C499.6 325.6 502.2 324.9 504.7 323.6 C507.3 322.3 509.9 320.2 512.4 318.4 C515.0 316.7 517.6 314.9 520.1 313.3 C522.7 311.7 525.3 310.2 527.8 308.8 C530.4 307.4 533.5 305.8 535.5 305.0 C537.6 304.2 539.2 304.3 540.0 304.1 C540.8 303.8 539.4 303.5 540.3 303.7 C541.2 303.8 543.3 304.3 545.4 305.0 C547.5 305.6 550.5 307.0 553.1 307.5 C555.7 308.1 558.2 308.2 560.8 308.2 C563.4 308.2 565.9 308.1 568.5 307.5 C571.1 307.0 573.6 305.8 576.2 305.0 C578.8 304.2 580.9 303.4 583.9 302.8 C586.9 302.2 591.5 301.5 594.2 301.5 C596.9 301.4 597.7 301.8 600.0 302.5 C602.3 303.2 605.1 305.0 607.7 305.7 C610.3 306.4 612.8 306.3 615.4 306.7 C618.0 307.1 620.5 307.4 623.1 308.2 C625.7 309.0 629.1 310.8 630.8 311.5 C632.5 312.1 632.1 312.2 633.4 312.1 C634.7 312.0 636.4 311.4 638.5 311.1 C640.7 310.7 643.6 310.4 646.2 310.2 C648.8 310.0 651.6 309.6 653.9 309.8 C656.3 310.0 658.0 310.4 660.3 311.5 C662.7 312.5 665.3 314.6 668.0 315.9 C670.8 317.3 674.2 318.4 677.0 319.8 C679.8 321.2 682.6 323.3 684.7 324.3 C686.9 325.3 687.9 325.7 689.9 325.6 C691.8 325.5 693.9 324.2 696.3 323.6 C698.6 323.1 701.1 322.1 704.0 322.4 C706.9 322.6 711.1 324.2 713.9 325.0 C716.6 325.8 718.1 326.3 720.3 326.9 C722.4 327.6 724.3 327.6 726.7 328.9 C729.0 330.1 731.8 332.7 734.4 334.6 C737.0 336.6 739.5 338.8 742.1 340.4 C744.7 342.0 747.0 343.1 749.8 344.3 C752.6 345.4 755.8 346.7 758.8 347.5 C761.8 348.3 764.6 348.8 767.8 349.1 C771.0 349.5 774.8 349.4 778.0 349.6 C781.2 349.9 784.2 349.9 787.0 350.7 C789.8 351.5 792.2 353.3 794.7 354.5 C797.3 355.7 799.9 356.9 802.4 357.7 C805.0 358.5 807.6 359.1 810.1 359.4 C812.7 359.7 815.3 359.7 817.8 359.7 C820.4 359.7 823.5 359.5 825.5 359.4 C827.6 359.3 823.3 361.4 830.0 359.0 C836.7 356.6 858.9 347.8 865.8 345.0 C872.8 342.2 869.8 342.9 871.6 342.2 C873.4 341.5 875.0 341.7 876.8 340.9 C878.5 340.2 879.7 339.5 881.9 337.7 C884.0 335.9 887.0 332.8 889.6 330.0 C892.2 327.2 894.7 324.0 897.3 321.0 C899.9 318.0 902.4 315.0 905.0 312.0 C907.6 309.0 910.1 306.2 912.7 303.0 C915.3 299.8 918.3 295.5 920.4 292.8 C922.5 290.0 923.9 288.2 925.5 286.3 C927.1 284.5 925.4 287.9 930.0 281.9 C934.7 275.8 948.5 256.8 953.4 250.0 C958.4 243.3 957.5 243.9 959.9 241.4 C962.2 238.9 964.8 237.1 967.6 235.0 C970.3 232.9 974.0 230.7 976.5 228.6 C979.1 226.4 980.7 224.3 983.0 222.2 C985.2 220.0 988.2 217.5 990.0 215.7 C991.9 214.0 992.2 213.2 994.1 211.8 C996.1 210.4 999.3 208.9 1001.8 207.3 C1004.4 205.7 1006.7 203.9 1009.5 202.2 C1012.3 200.4 1015.5 198.9 1018.5 197.0 C1021.5 195.1 1024.3 193.0 1027.5 190.6 C1030.7 188.2 1035.7 184.3 1037.8 182.9 C1039.9 181.5 1038.6 183.1 1040.0 182.4 C1041.4 181.7 1044.3 179.9 1046.4 178.6 C1048.6 177.3 1050.3 176.0 1052.8 174.7 C1055.4 173.4 1058.4 172.0 1061.8 170.9 C1065.2 169.7 1070.0 168.9 1073.4 167.7 C1076.8 166.4 1079.4 164.8 1082.4 163.2 C1085.4 161.6 1088.6 159.4 1091.3 158.0 C1094.1 156.6 1096.7 155.8 1099.1 154.8 C1101.4 153.9 1103.6 153.2 1105.5 152.3 C1107.3 151.3 1108.6 150.2 1110.0 149.1 C1111.3 147.9 1112.8 146.1 1113.4 145.5" stroke="#800080"/>
</g>
<path d="M78.5 30.5H1163.5" stroke="#008000" stroke-opacity="0.7" stroke-width="1.39" stroke-dasharray="8.9 2.2 1.4 2.2" stroke-dashoffset="-0.85" fill="none"/>
<path d="M78.5 245.5H1163.5" stroke="#ff0000" stroke-opacity="0.7" stroke-width="1.39" stroke-dasharray="8.9 2.2 1.4 2.2" stroke-dashoffset="-0.85" fill="none"/>
<path d="M1113.5 485.5V9.5" stroke="#008000" stroke-opacity="0.7" stroke-width="1.39" stroke-dasharray="5.14 2.22" fill="none"/>
<g fill="#b8b8b8">
<rect x="130" y="658.4" width="1" height="1.1"/>
<rect x="131" y="644.4" width="1" height="15.1"/>
<rect x="135" y="653.7" width="1" height="5.8"/>
<rect x="142" y="653.9" width="1" height="5.6"/>
<rect x="143" y="656.6" width="1" height="2.9"/>
<rect x="145" y="642.4" width="1" height="17.1"/>
<rect x="146" y="659.0" width="1" height="0.6"/>
<rect x="148" y="658.2" width="1" height="1.3"/>
<rect x="149" y="649.5" width="1" height="10.1"/>
<rect x="151" y="658.3" width="1" height="1.2"/>
<rect x="153" y="657.8" width="1" height="1.7"/>
<rect x="154" y="652.5" width="1" height="7.0"/>
<rect x="155" y="658.9" width="1" height="0.6"/>
<rect x="157" y="659.0" width="1" height="0.5"/>
<rect x="160" y="658.2" width="1" height="1.3"/>
<rect x="161" y="656.4" width="1" height="3.1"/>
<rect x="163" y="653.6" width="1" height="5.9"/>
<rect x="164" y="658.7" width="1" height="0.8"/>
<rect x="166" y="658.5" width="1" height="1.0"/>
<rect x="167" y="646.4" width="1" height="13.1"/>
<rect x="168" y="657.9" width="1" height="1.6"/>
<rect x="172" y="654.5" width="1" height="5.0"/>
<rect x="173" y="657.7" width="1" height="1.8"/>
<rect x="174" y="652.7" width="1" height="6.8"/>
<rect x="176" y="629.4" width="1" height="30.1"/>
<rect x="178" y="649.5" width="1" height="10.1"/>
<rect x="181" y="657.9" width="1" height="1.6"/>
<rect x="182" y="657.7" width="1" height="1.8"/>
<rect x="186" y="636.4" width="1" height="23.1"/>
<rect x="187" y="658.8" width="1" height="0.7"/>
<rect x="189" y="655.7" width="1" height="3.8"/>
<rect x="190" y="658.6" width="1" height="0.9"/>
<rect x="192" y="657.3" width="1" height="2.2"/>
<rect x="193" y="659.1" width="1" height="0.4"/>
<rect x="194" y="656.4" width="1" height="3.1"/>
<rect x="195" y="658.6" width="1" height="0.9"/>
<rect x="196" y="656.3" width="1" height="3.2"/>
<rect x="199" y="658.7" width="1" height="0.8"/>
<rect x="200" y="656.3" width="1" height="3.2"/>
<rect x="203" y="648.4" width="1" height="11.1"/>
<rect x="205" y="658.2" width="1" height="1.3"/>
<rect x="207" y="653.7" width="1" height="5.8"/>
<rect x="208" y="658.8" width="1" height="0.7"/>
<rect x="212" y="653.7" width="1" height="5.8"/>
<rect x="213" y="658.1" width="1" height="1.4"/>
<rect x="215" y="654.7" width="1" height="4.8"/>
<rect x="216" y="656.0" width="1" height="3.5"/>
<rect x="218" y="653.7" width="1" height="5.8"/>
<rect x="221" y="654.7" width="1" height="4.8"/>
<rect x="223" y="658.0" width="1" height="1.5"/>
<rect x="226" y="641.4" width="1" height="18.1"/>
<rect x="229" y="658.8" width="1" height="0.7"/>
<rect x="230" y="656.4" width="1" height="3.1"/>
<rect x="232" y="659.1" width="1" height="0.4"/>
<rect x="233" y="653.5" width="1" height="6.0"/>
<rect x="234" y="658.8" width="1" height="0.7"/>
<rect x="235" y="656.7" width="1" height="2.8"/>
<rect x="237" y="658.5" width="1" height="1.0"/>
<rect x="238" y="645.4" width="1" height="14.1"/>
<rect x="240" y="659.0" width="1" height="0.5"/>
<rect x="241" y="651.5" width="1" height="8.0"/>
<rect x="247" y="653.7" width="1" height="5.8"/>
<rect x="250" y="658.8" width="1" height="0.7"/>
<rect x="251" y="657.3" width="1" height="2.2"/>
<rect x="252" y="651.5" width="1" height="8.0"/>
<rect x="253" y="657.2" width="1" height="2.3"/>
<rect x="255" y="654.7" width="1" height="4.8"/>
<rect x="262" y="637.4" width="1" height="22.1"/>
<rect x="263" y="658.4" width="1" height="1.1"/>
<rect x="265" y="659.0" width="1" height="0.5"/>
<rect x="266" y="647.4" width="1" height="12.1"/>
<rect x="267" y="640.4" width="1" height="19.1"/>
<rect x="268" y="657.7" width="1" height="1.8"/>
<rect x="269" y="653.5" width="1" height="6.0"/>
<rect x="270" y="654.5" width="1" height="5.0"/>
<rect x="271" y="655.4" width="1" height="4.2"/>
<rect x="272" y="644.4" width="1" height="15.1"/>
<rect x="276" y="655.5" width="1" height="4.0"/>
<rect x="278" y="658.0" width="1" height="1.5"/>
<rect x="281" y="629.4" width="1" height="30.1"/>
<rect x="284" y="657.9" width="1" height="1.6"/>
<rect x="290" y="657.1" width="1" height="2.4"/>
<rect x="292" y="658.7" width="1" height="0.8"/>
<rect x="295" y="653.5" width="1" height="6.0"/>
<rect x="297" y="656.0" width="1" height="3.5"/>
<rect x="299" y="656.9" width="1" height="2.6"/>
<rect x="302" y="648.4" width="1" height="11.1"/>
<rect x="303" y="658.1" width="1" height="1.4"/>
<rect x="306" y="655.5" width="1" height="4.0"/>
<rect x="308" y="654.9" width="1" height="4.6"/>
<rect x="309" y="656.0" width="1" height="3.5"/>
<rect x="311" y="659.0" width="1" height="0.5"/>
<rect x="312" y="645.4" width="1" height="14.1"/>
<rect x="313" y="659.0" width="1" height="0.5"/>
<rect x="315" y="658.6" width="1" height="0.9"/>
<rect x="316" y="655.4" width="1" height="4.1"/>
<rect x="317" y="658.5" width="1" height="1.0"/>
<rect x="320" y="629.4" width="1" height="30.1"/>
<rect x="321" y="655.2" width="1" height="4.2"/>
<rect x="322" y="658.2" width="1" height="1.3"/>
<rect x="324" y="655.5" width="1" height="4.0"/>
<rect x="326" y="656.8" width="1" height="2.7"/>
<rect x="327" y="658.4" width="1" height="1.1"/>
<rect x="330" y="655.5" width="1" height="4.0"/>
<rect x="331" y="658.3" width="1" height="1.2"/>
<rect x="334" y="658.1" width="1" height="1.4"/>
<rect x="335" y="653.5" width="1" height="6.0"/>
<rect x="336" y="659.0" width="1" height="0.6"/>
<rect x="338" y="655.5" width="1" height="4.0"/>
<rect x="339" y="658.1" width="1" height="1.4"/>
<rect x="341" y="652.5" width="1" height="7.0"/>
<rect x="343" y="657.9" width="1" height="1.6"/>
<rect x="344" y="658.3" width="1" height="1.2"/>
<rect x="346" y="658.2" width="1" height="1.3"/>
<rect x="347" y="654.7" width="1" height="4.8"/>
<rect x="351" y="658.1" width="1" height="1.4"/>
<rect x="352" y="641.4" width="1" height="18.1"/>
<rect x="354" y="651.5" width="1" height="8.0"/>
<rect x="362" y="657.4" width="1" height="2.1"/>
<rect x="363" y="655.5" width="1" height="4.0"/>
<rect x="365" y="655.9" width="1" height="3.6"/>
<rect x="367" y="652.5" width="1" height="7.0"/>
<rect x="368" y="654.3" width="1" height="5.2"/>
<rect x="369" y="658.4" width="1" height="1.1"/>
<rect x="370" y="644.4" width="1" height="15.1"/>
<rect x="373" y="658.5" width="1" height="1.0"/>
<rect x="374" y="658.8" width="1" height="0.7"/>
<rect x="375" y="644.4" width="1" height="15.1"/>
<rect x="378" y="658.1" width="1" height="1.4"/>
<rect x="380" y="657.8" width="1" height="1.7"/>
<rect x="382" y="647.4" width="1" height="12.1"/>
<rect x="386" y="659.0" width="1" height="0.5"/>
<rect x="387" y="656.9" width="1" height="2.6"/>
<rect x="389" y="655.4" width="1" height="4.1"/>
<rect x="392" y="635.4" width="1" height="24.1"/>
<rect x="396" y="655.0" width="1" height="4.5"/>
<rect x="401" y="652.0" width="1" height="7.5"/>
<rect x="404" y="650.0" width="1" height="9.6"/>
<rect x="405" y="656.2" width="1" height="3.3"/>
<rect x="406" y="656.1" width="1" height="3.4"/>
<rect x="407" y="649.0" width="1" height="10.6"/>
<rect x="408" y="655.0" width="1" height="4.5"/>
<rect x="409" y="658.8" width="1" height="0.7"/>
<rect x="410" y="655.0" width="1" height="4.5"/>
<rect x="414" y="659.0" width="1" height="0.5"/>
<rect x="415" y="645.9" width="1" height="13.6"/>
<rect x="418" y="658.9" width="1" height="0.6"/>
<rect x="419" y="645.9" width="1" height="13.6"/>
<rect x="421" y="647.9" width="1" height="11.6"/>
<rect x="422" y="640.9" width="1" height="18.6"/>
<rect x="423" y="658.3" width="1" height="1.2"/>
<rect x="424" y="658.8" width="1" height="0.7"/>
<rect x="425" y="659.0" width="1" height="0.5"/>
<rect x="426" y="657.2" width="1" height="2.2"/>
<rect x="428" y="658.4" width="1" height="1.1"/>
<rect x="429" y="652.0" width="1" height="7.5"/>
<rect x="431" y="656.6" width="1" height="2.9"/>
<rect x="432" y="642.9" width="1" height="16.6"/>
<rect x="433" y="647.9" width="1" height="11.6"/>
<rect x="434" y="658.3" width="1" height="1.2"/>
<rect x="436" y="658.3" width="1" height="1.2"/>
<rect x="437" y="651.0" width="1" height="8.5"/>
<rect x="440" y="656.5" width="1" height="3.0"/>
<rect x="443" y="649.0" width="1" height="10.6"/>
<rect x="444" y="658.4" width="1" height="1.1"/>
<rect x="445" y="638.9" width="1" height="20.6"/>
<rect x="447" y="656.0" width="1" height="3.5"/>
<rect x="448" y="638.9" width="1" height="20.6"/>
<rect x="450" y="627.8" width="1" height="31.7"/>
<rect x="454" y="658.8" width="1" height="0.7"/>
<rect x="455" y="639.9" width="1" height="19.6"/>
<rect x="456" y="644.9" width="1" height="14.6"/>
<rect x="458" y="658.0" width="1" height="1.5"/>
<rect x="459" y="643.9" width="1" height="15.6"/>
<rect x="461" y="635.9" width="1" height="23.6"/>
<rect x="462" y="638.9" width="1" height="20.6"/>
<rect x="464" y="658.8" width="1" height="0.7"/>
<rect x="465" y="587.9" width="1" height="71.6"/>
<rect x="467" y="658.4" width="1" height="1.1"/>
<rect x="468" y="658.2" width="1" height="1.2"/>
<rect x="469" y="636.9" width="1" height="22.6"/>
<rect x="470" y="643.9" width="1" height="15.6"/>
<rect x="471" y="657.7" width="1" height="1.8"/>
<rect x="472" y="657.7" width="1" height="1.8"/>
<rect x="473" y="656.0" width="1" height="3.5"/>
<rect x="474" y="658.7" width="1" height="0.8"/>
<rect x="475" y="658.2" width="1" height="1.3"/>
<rect x="476" y="643.9" width="1" height="15.6"/>
<rect x="478" y="658.8" width="1" height="0.7"/>
<rect x="480" y="655.9" width="1" height="3.6"/>
<rect x="483" y="636.9" width="1" height="22.6"/>
<rect x="484" y="636.9" width="1" height="22.6"/>
<rect x="485" y="642.9" width="1" height="16.6"/>
<rect x="487" y="646.9" width="1" height="12.6"/>
<rect x="488" y="651.0" width="1" height="8.5"/>
<rect x="489" y="658.5" width="1" height="1.0"/>
<rect x="490" y="646.9" width="1" height="12.6"/>
<rect x="491" y="653.0" width="1" height="6.5"/>
<rect x="492" y="653.0" width="1" height="6.5"/>
<rect x="494" y="656.1" width="1" height="3.4"/>
<rect x="496" y="654.8" width="1" height="4.7"/>
<rect x="499" y="655.0" width="1" height="4.5"/>
<rect x="502" y="655.0" width="1" height="4.5"/>
<rect x="504" y="656.4" width="1" height="3.1"/>
<rect x="509" y="651.0" width="1" height="8.5"/>
<rect x="512" y="657.0" width="1" height="2.5"/>
<rect x="514" y="658.7" width="1" height="0.8"/>
<rect x="515" y="656.4" width="1" height="3.1"/>
<rect x="516" y="654.0" width="1" height="5.5"/>
<rect x="523" y="649.0" width="1" height="10.6"/>
<rect x="525" y="645.9" width="1" height="13.6"/>
<rect x="526" y="658.2" width="1" height="1.3"/>
<rect x="527" y="653.0" width="1" height="6.5"/>
<rect x="528" y="651.0" width="1" height="8.5"/>
<rect x="530" y="657.2" width="1" height="2.3"/>
<rect x="531" y="643.9" width="1" height="15.6"/>
<rect x="533" y="657.3" width="1" height="2.2"/>
<rect x="534" y="657.2" width="1" height="2.3"/>
<rect x="536" y="647.9" width="1" height="11.6"/>
<rect x="537" y="658.7" width="1" height="0.8"/>
<rect x="538" y="644.9" width="1" height="14.6"/>
<rect x="539" y="651.0" width="1" height="8.5"/>
<rect x="540" y="657.5" width="1" height="2.0"/>
<rect x="541" y="626.8" width="1" height="32.7"/>
<rect x="542" y="649.0" width="1" height="10.6"/>
<rect x="546" y="631.9" width="1" height="27.6"/>
<rect x="548" y="657.2" width="1" height="2.3"/>
<rect x="549" y="658.1" width="1" height="1.4"/>
<rect x="551" y="657.6" width="1" height="1.9"/>
<rect x="552" y="656.0" width="1" height="3.5"/>
<rect x="554" y="657.0" width="1" height="2.5"/>
<rect x="556" y="658.3" width="1" height="1.2"/>
<rect x="557" y="654.0" width="1" height="5.5"/>
<rect x="558" y="658.4" width="1" height="1.1"/>
<rect x="559" y="656.0" width="1" height="3.5"/>
<rect x="560" y="655.7" width="1" height="3.8"/>
<rect x="561" y="653.5" width="1" height="6.0"/>
<rect x="563" y="658.5" width="1" height="1.0"/>
<rect x="564" y="657.0" width="1" height="2.5"/>
<rect x="567" y="659.0" width="1" height="0.5"/>
<rect x="568" y="654.5" width="1" height="5.0"/>
<rect x="569" y="658.0" width="1" height="1.5"/>
<rect x="570" y="657.0" width="1" height="2.5"/>
<rect x="571" y="658.2" width="1" height="1.3"/>
<rect x="572" y="654.0" width="1" height="5.5"/>
<rect x="574" y="656.6" width="1" height="2.9"/>
<rect x="575" y="655.8" width="1" height="3.7"/>
<rect x="576" y="614.8" width="1" height="44.7"/>
<rect x="578" y="654.0" width="1" height="5.5"/>
<rect x="579" y="655.6" width="1" height="3.9"/>
<rect x="581" y="619.8" width="1" height="39.7"/>
<rect x="582" y="658.4" width="1" height="1.1"/>
<rect x="583" y="650.0" width="1" height="9.6"/>
<rect x="584" y="658.9" width="1" height="0.6"/>
<rect x="585" y="655.0" width="1" height="4.5"/>
<rect x="586" y="658.8" width="1" height="0.7"/>
<rect x="587" y="656.4" width="1" height="3.1"/>
<rect x="588" y="657.1" width="1" height="2.4"/>
<rect x="590" y="644.9" width="1" height="14.6"/>
<rect x="591" y="655.1" width="1" height="4.4"/>
<rect x="593" y="651.0" width="1" height="8.5"/>
<rect x="595" y="658.7" width="1" height="0.8"/>
<rect x="596" y="615.8" width="1" height="43.7"/>
<rect x="597" y="646.9" width="1" height="12.6"/>
<rect x="598" y="653.5" width="1" height="6.0"/>
<rect x="599" y="647.9" width="1" height="11.6"/>
<rect x="600" y="649.0" width="1" height="10.6"/>
<rect x="602" y="658.5" width="1" height="0.9"/>
<rect x="604" y="654.0" width="1" height="5.5"/>
<rect x="605" y="656.4" width="1" height="3.1"/>
<rect x="606" y="654.8" width="1" height="4.7"/>
<rect x="607" y="625.8" width="1" height="33.7"/>
<rect x="608" y="651.0" width="1" height="8.5"/>
<rect x="609" y="659.0" width="1" height="0.5"/>
<rect x="610" y="641.9" width="1" height="17.6"/>
<rect x="612" y="649.0" width="1" height="10.6"/>
<rect x="613" y="654.2" width="1" height="5.3"/>
<rect x="618" y="628.9" width="1" height="30.6"/>
<rect x="620" y="657.3" width="1" height="2.2"/>
<rect x="621" y="643.9" width="1" height="15.6"/>
<rect x="622" y="656.0" width="1" height="3.5"/>
<rect x="623" y="657.3" width="1" height="2.2"/>
<rect x="624" y="657.1" width="1" height="2.4"/>
<rect x="625" y="656.0" width="1" height="3.5"/>
<rect x="629" y="658.4" width="1" height="1.1"/>
<rect x="630" y="658.9" width="1" height="0.6"/>
<rect x="633" y="650.0" width="1" height="9.6"/>
<rect x="634" y="657.7" width="1" height="1.8"/>
<rect x="635" y="658.1" width="1" height="1.4"/>
<rect x="637" y="647.9" width="1" height="11.6"/>
<rect x="639" y="621.8" width="1" height="37.7"/>
<rect x="641" y="621.8" width="1" height="37.7"/>
<rect x="642" y="659.1" width="1" height="0.4"/>
<rect x="644" y="646.9" width="1" height="12.6"/>
<rect x="645" y="655.0" width="1" height="4.5"/>
<rect x="650" y="652.0" width="1" height="7.5"/>
<rect x="652" y="656.0" width="1" height="3.5"/>
<rect x="656" y="658.6" width="1" height="0.9"/>
<rect x="657" y="658.7" width="1" height="0.8"/>
<rect x="659" y="651.0" width="1" height="8.5"/>
<rect x="661" y="658.3" width="1" height="1.2"/>
<rect x="662" y="653.0" width="1" height="6.5"/>
<rect x="663" y="651.0" width="1" height="8.5"/>
<rect x="666" y="659.0" width="1" height="0.5"/>
<rect x="667" y="658.6" width="1" height="0.9"/>
<rect x="668" y="653.0" width="1" height="6.5"/>
<rect x="672" y="597.9" width="1" height="61.6"/>
<rect x="674" y="658.0" width="1" height="1.5"/>
<rect x="677" y="652.0" width="1" height="7.5"/>
<rect x="678" y="658.0" width="1" height="1.5"/>
<rect x="679" y="654.0" width="1" height="5.5"/>
<rect x="680" y="658.7" width="1" height="0.8"/>
<rect x="686" y="658.2" width="1" height="1.3"/>
<rect x="687" y="655.0" width="1" height="4.5"/>
<rect x="691" y="654.0" width="1" height="5.5"/>
<rect x="692" y="646.9" width="1" height="12.6"/>
<rect x="695" y="658.1" width="1" height="1.4"/>
<rect x="696" y="656.9" width="1" height="2.6"/>
<rect x="697" y="655.2" width="1" height="4.3"/>
<rect x="700" y="657.8" width="1" height="1.7"/>
<rect x="702" y="620.8" width="1" height="38.7"/>
<rect x="704" y="658.0" width="1" height="1.5"/>
<rect x="705" y="651.0" width="1" height="8.5"/>
<rect x="706" y="659.1" width="1" height="0.4"/>
<rect x="708" y="657.0" width="1" height="2.5"/>
<rect x="709" y="658.9" width="1" height="0.6"/>
<rect x="710" y="654.1" width="1" height="5.4"/>
<rect x="713" y="656.0" width="1" height="3.5"/>
<rect x="714" y="659.0" width="1" height="0.5"/>
<rect x="715" y="654.0" width="1" height="5.5"/>
<rect x="716" y="655.0" width="1" height="4.5"/>
<rect x="717" y="657.0" width="1" height="2.5"/>
<rect x="720" y="643.9" width="1" height="15.6"/>
<rect x="721" y="656.0" width="1" height="3.5"/>
<rect x="722" y="657.6" width="1" height="1.9"/>
<rect x="723" y="659.0" width="1" height="0.5"/>
<rect x="727" y="658.6" width="1" height="0.9"/>
<rect x="728" y="614.8" width="1" height="44.7"/>
<rect x="730" y="627.8" width="1" height="31.7"/>
<rect x="731" y="656.8" width="1" height="2.7"/>
<rect x="732" y="655.0" width="1" height="4.5"/>
<rect x="735" y="658.0" width="1" height="1.5"/>
<rect x="737" y="656.6" width="1" height="2.9"/>
<rect x="738" y="659.1" width="1" height="0.4"/>
<rect x="739" y="655.0" width="1" height="4.5"/>
<rect x="741" y="654.3" width="1" height="5.2"/>
<rect x="742" y="636.9" width="1" height="22.6"/>
<rect x="743" y="606.0" width="1" height="53.5"/>
<rect x="744" y="658.6" width="1" height="0.9"/>
<rect x="745" y="653.0" width="1" height="6.5"/>
<rect x="746" y="655.0" width="1" height="4.5"/>
<rect x="748" y="656.0" width="1" height="3.5"/>
<rect x="750" y="658.6" width="1" height="0.8"/>
<rect x="751" y="653.5" width="1" height="6.0"/>
<rect x="753" y="657.0" width="1" height="2.5"/>
<rect x="754" y="658.6" width="1" height="0.8"/>
<rect x="756" y="634.9" width="1" height="24.6"/>
<rect x="760" y="657.0" width="1" height="2.5"/>
<rect x="761" y="646.9" width="1" height="12.6"/>
<rect x="766" y="657.6" width="1" height="1.9"/>
<rect x="767" y="658.7" width="1" height="0.8"/>
<rect x="769" y="658.9" width="1" height="0.6"/>
<rect x="770" y="657.0" width="1" height="2.5"/>
<rect x="771" y="654.0" width="1" height="5.5"/>
<rect x="772" y="654.2" width="1" height="5.3"/>
<rect x="773" y="653.8" width="1" height="5.7"/>
<rect x="774" y="658.8" width="1" height="0.8"/>
<rect x="778" y="658.7" width="1" height="0.8"/>
<rect x="780" y="658.7" width="1" height="0.8"/>
<rect x="781" y="656.0" width="1" height="3.5"/>
<rect x="783" y="658.6" width="1" height="0.9"/>
<rect x="787" y="655.2" width="1" height="4.3"/>
<rect x="788" y="656.0" width="1" height="3.5"/>
<rect x="789" y="657.2" width="1" height="2.3"/>
<rect x="791" y="659.0" width="1" height="0.5"/>
<rect x="793" y="656.0" width="1" height="3.5"/>
<rect x="794" y="655.0" width="1" height="4.5"/>
<rect x="796" y="654.0" width="1" height="5.5"/>
<rect x="797" y="650.0" width="1" height="9.6"/>
<rect x="799" y="659.0" width="1" height="0.6"/>
<rect x="800" y="656.0" width="1" height="3.5"/>
<rect x="805" y="658.8" width="1" height="0.7"/>
<rect x="806" y="653.5" width="1" height="6.0"/>
<rect x="807" y="647.9" width="1" height="11.6"/>
<rect x="808" y="645.9" width="1" height="13.6"/>
<rect x="810" y="646.9" width="1" height="12.6"/>
<rect x="811" y="642.9" width="1" height="16.6"/>
<rect x="812" y="569.8" width="1" height="89.7"/>
<rect x="813" y="658.8" width="1" height="0.8"/>
<rect x="814" y="640.9" width="1" height="18.6"/>
<rect x="815" y="654.0" width="1" height="5.5"/>
<rect x="816" y="657.7" width="1" height="1.8"/>
<rect x="817" y="656.0" width="1" height="3.5"/>
<rect x="819" y="655.3" width="1" height="4.2"/>
<rect x="821" y="652.0" width="1" height="7.5"/>
<rect x="822" y="645.9" width="1" height="13.6"/>
<rect x="825" y="654.0" width="1" height="5.5"/>
<rect x="826" y="650.0" width="1" height="9.6"/>
<rect x="828" y="650.0" width="1" height="9.6"/>
<rect x="829" y="639.9" width="1" height="19.6"/>
<rect x="830" y="639.9" width="1" height="19.6"/>
<rect x="831" y="658.5" width="1" height="1.0"/>
<rect x="832" y="655.5" width="1" height="4.0"/>
<rect x="833" y="658.9" width="1" height="0.6"/>
<rect x="834" y="647.9" width="1" height="11.6"/>
<rect x="836" y="650.0" width="1" height="9.6"/>
<rect x="837" y="657.0" width="1" height="2.5"/>
<rect x="839" y="657.4" width="1" height="2.1"/>
<rect x="840" y="651.0" width="1" height="8.5"/>
<rect x="841" y="653.0" width="1" height="6.5"/>
<rect x="843" y="653.0" width="1" height="6.5"/>
<rect x="844" y="630.9" width="1" height="28.6"/>
<rect x="847" y="653.0" width="1" height="6.5"/>
<rect x="848" y="650.0" width="1" height="9.6"/>
<rect x="849" y="657.7" width="1" height="1.8"/>
<rect x="850" y="647.9" width="1" height="11.6"/>
<rect x="851" y="651.0" width="1" height="8.5"/>
<rect x="852" y="654.0" width="1" height="5.5"/>
<rect x="854" y="645.9" width="1" height="13.6"/>
<rect x="855" y="617.8" width="1" height="41.7"/>
<rect x="856" y="658.8" width="1" height="0.7"/>
<rect x="857" y="655.0" width="1" height="4.5"/>
<rect x="858" y="657.0" width="1" height="2.5"/>
<rect x="862" y="650.0" width="1" height="9.6"/>
<rect x="863" y="654.0" width="1" height="5.5"/>
<rect x="865" y="653.0" width="1" height="6.5"/>
<rect x="866" y="654.7" width="1" height="4.8"/>
<rect x="867" y="657.3" width="1" height="2.2"/>
<rect x="868" y="656.0" width="1" height="3.5"/>
<rect x="869" y="657.0" width="1" height="2.5"/>
<rect x="870" y="658.8" width="1" height="0.7"/>
<rect x="871" y="659.1" width="1" height="0.4"/>
<rect x="874" y="658.2" width="1" height="1.3"/>
<rect x="876" y="658.8" width="1" height="0.7"/>
<rect x="877" y="650.0" width="1" height="9.6"/>
<rect x="879" y="646.9" width="1" height="12.6"/>
<rect x="880" y="647.9" width="1" height="11.6"/>
<rect x="881" y="657.0" width="1" height="2.5"/>
<rect x="884" y="603.0" width="1" height="56.5"/>
<rect x="885" y="657.8" width="1" height="1.7"/>
<rect x="888" y="650.0" width="1" height="9.6"/>
<rect x="890" y="628.9" width="1" height="30.6"/>
<rect x="891" y="649.0" width="1" height="10.6"/>
<rect x="892" y="654.0" width="1" height="5.5"/>
<rect x="894" y="651.0" width="1" height="8.5"/>
<rect x="895" y="649.0" width="1" height="10.6"/>
<rect x="897" y="651.0" width="1" height="8.5"/>
<rect x="898" y="631.9" width="1" height="27.6"/>
<rect x="901" y="596.9" width="1" height="62.6"/>
<rect x="902" y="639.9" width="1" height="19.6"/>
<rect x="903" y="645.9" width="1" height="13.6"/>
<rect x="904" y="654.3" width="1" height="5.2"/>
<rect x="905" y="623.8" width="1" height="35.7"/>
<rect x="906" y="649.0" width="1" height="10.6"/>
<rect x="907" y="658.7" width="1" height="0.8"/>
<rect x="908" y="650.0" width="1" height="9.6"/>
<rect x="909" y="652.0" width="1" height="7.5"/>
<rect x="910" y="636.9" width="1" height="22.6"/>
<rect x="913" y="657.1" width="1" height="2.4"/>
<rect x="915" y="658.3" width="1" height="1.2"/>
<rect x="916" y="640.9" width="1" height="18.6"/>
<rect x="917" y="653.0" width="1" height="6.5"/>
<rect x="918" y="658.9" width="1" height="0.6"/>
<rect x="919" y="644.9" width="1" height="14.6"/>
<rect x="920" y="649.0" width="1" height="10.6"/>
<rect x="921" y="649.0" width="1" height="10.6"/>
<rect x="922" y="657.1" width="1" height="2.4"/>
<rect x="923" y="643.9" width="1" height="15.6"/>
<rect x="924" y="646.9" width="1" height="12.6"/>
<rect x="927" y="656.5" width="1" height="3.0"/>
<rect x="928" y="652.0" width="1" height="7.5"/>
<rect x="929" y="658.5" width="1" height="1.0"/>
<rect x="930" y="645.9" width="1" height="13.6"/>
<rect x="931" y="653.0" width="1" height="6.5"/>
<rect x="932" y="653.0" width="1" height="6.5"/>
<rect x="933" y="655.4" width="1" height="4.1"/>
<rect x="934" y="649.0" width="1" height="10.6"/>
<rect x="935" y="654.0" width="1" height="5.5"/>
<rect x="937" y="650.0" width="1" height="9.6"/>
<rect x="938" y="636.9" width="1" height="22.6"/>
<rect x="939" y="658.2" width="1" height="1.3"/>
<rect x="941" y="646.9" width="1" height="12.6"/>
<rect x="942" y="652.0" width="1" height="7.5"/>
<rect x="943" y="657.0" width="1" height="2.5"/>
<rect x="945" y="645.9" width="1" height="13.6"/>
<rect x="946" y="646.9" width="1" height="12.6"/>
<rect x="948" y="642.9" width="1" height="16.6"/>
<rect x="949" y="624.8" width="1" height="34.7"/>
<rect x="950" y="653.0" width="1" height="6.5"/>
<rect x="952" y="658.6" width="1" height="0.9"/>
<rect x="953" y="653.5" width="1" height="6.0"/>
<rect x="954" y="657.3" width="1" height="2.2"/>
<rect x="955" y="658.1" width="1" height="1.4"/>
<rect x="956" y="646.9" width="1" height="12.6"/>
<rect x="957" y="655.0" width="1" height="4.5"/>
<rect x="959" y="649.0" width="1" height="10.6"/>
<rect x="960" y="590.9" width="1" height="68.6"/>
<rect x="961" y="617.8" width="1" height="41.7"/>
<rect x="963" y="650.0" width="1" height="9.6"/>
<rect x="964" y="654.0" width="1" height="5.5"/>
<rect x="965" y="658.9" width="1" height="0.6"/>
<rect x="969" y="655.0" width="1" height="4.5"/>
<rect x="970" y="624.8" width="1" height="34.7"/>
<rect x="971" y="628.9" width="1" height="30.6"/>
<rect x="972" y="644.9" width="1" height="14.6"/>
<rect x="973" y="653.9" width="1" height="5.6"/>
<rect x="974" y="653.0" width="1" height="6.5"/>
<rect x="975" y="653.0" width="1" height="6.5"/>
<rect x="976" y="659.0" width="1" height="0.5"/>
<rect x="977" y="657.4" width="1" height="2.1"/>
<rect x="978" y="639.9" width="1" height="19.6"/>
<rect x="981" y="657.0" width="1" height="2.5"/>
<rect x="982" y="651.0" width="1" height="8.5"/>
<rect x="983" y="646.9" width="1" height="12.6"/>
<rect x="984" y="657.7" width="1" height="1.8"/>
<rect x="985" y="654.5" width="1" height="5.0"/>
<rect x="986" y="641.6" width="1" height="17.9"/>
<rect x="988" y="651.6" width="1" height="7.9"/>
<rect x="989" y="651.6" width="1" height="7.9"/>
<rect x="990" y="653.5" width="1" height="6.0"/>
<rect x="992" y="656.4" width="1" height="3.1"/>
<rect x="996" y="647.8" width="1" height="11.7"/>
<rect x="997" y="644.5" width="1" height="15.0"/>
<rect x="999" y="647.8" width="1" height="11.7"/>
<rect x="1000" y="640.6" width="1" height="18.9"/>
<rect x="1001" y="644.5" width="1" height="15.0"/>
<rect x="1003" y="654.5" width="1" height="5.0"/>
<rect x="1004" y="652.6" width="1" height="6.9"/>
<rect x="1006" y="643.5" width="1" height="16.0"/>
<rect x="1009" y="653.5" width="1" height="6.0"/>
<rect x="1010" y="637.6" width="1" height="21.9"/>
<rect x="1011" y="631.6" width="1" height="27.9"/>
<rect x="1012" y="653.5" width="1" height="6.0"/>
<rect x="1014" y="646.6" width="1" height="12.9"/>
<rect x="1015" y="635.6" width="1" height="23.9"/>
<rect x="1017" y="573.6" width="1" height="85.8"/>
<rect x="1018" y="551.5" width="1" height="108.0"/>
<rect x="1019" y="630.6" width="1" height="28.9"/>
<rect x="1020" y="658.1" width="1" height="1.4"/>
<rect x="1023" y="658.9" width="1" height="0.6"/>
<rect x="1024" y="657.6" width="1" height="1.9"/>
<rect x="1025" y="643.5" width="1" height="16.0"/>
<rect x="1026" y="645.6" width="1" height="13.9"/>
<rect x="1028" y="650.6" width="1" height="8.8"/>
<rect x="1029" y="645.6" width="1" height="13.9"/>
<rect x="1030" y="624.7" width="1" height="34.8"/>
<rect x="1031" y="656.1" width="1" height="3.4"/>
<rect x="1032" y="644.5" width="1" height="15.0"/>
<rect x="1033" y="636.6" width="1" height="22.9"/>
<rect x="1035" y="657.4" width="1" height="2.1"/>
<rect x="1037" y="648.5" width="1" height="11.0"/>
<rect x="1039" y="628.5" width="1" height="31.0"/>
<rect x="1040" y="650.6" width="1" height="8.8"/>
<rect x="1041" y="634.7" width="1" height="24.8"/>
<rect x="1042" y="648.5" width="1" height="11.0"/>
<rect x="1043" y="640.6" width="1" height="18.9"/>
<rect x="1044" y="648.5" width="1" height="11.0"/>
<rect x="1046" y="636.6" width="1" height="22.9"/>
<rect x="1048" y="658.1" width="1" height="1.4"/>
<rect x="1050" y="608.7" width="1" height="50.8"/>
<rect x="1051" y="648.5" width="1" height="11.0"/>
<rect x="1052" y="646.6" width="1" height="12.9"/>
<rect x="1053" y="656.7" width="1" height="2.8"/>
<rect x="1054" y="648.5" width="1" height="11.0"/>
<rect x="1055" y="658.0" width="1" height="1.5"/>
<rect x="1056" y="657.0" width="1" height="2.5"/>
<rect x="1057" y="654.5" width="1" height="5.0"/>
<rect x="1058" y="646.6" width="1" height="12.9"/>
<rect x="1059" y="640.6" width="1" height="18.9"/>
<rect x="1060" y="658.8" width="1" height="0.7"/>
<rect x="1063" y="659.0" width="1" height="0.5"/>
<rect x="1065" y="650.6" width="1" height="8.8"/>
<rect x="1066" y="654.5" width="1" height="5.0"/>
<rect x="1067" y="658.0" width="1" height="1.5"/>
<rect x="1068" y="651.6" width="1" height="7.9"/>
<rect x="1069" y="652.6" width="1" height="6.9"/>
<rect x="1070" y="646.6" width="1" height="12.9"/>
<rect x="1072" y="653.5" width="1" height="6.0"/>
<rect x="1073" y="639.7" width="1" height="19.8"/>
<rect x="1075" y="656.1" width="1" height="3.4"/>
<rect x="1077" y="649.7" width="1" height="9.8"/>
<rect x="1079" y="595.6" width="1" height="63.9"/>
<rect x="1080" y="636.6" width="1" height="22.9"/>
<rect x="1081" y="617.5" width="1" height="42.0"/>
<rect x="1082" y="658.3" width="1" height="1.2"/>
<rect x="1083" y="644.5" width="1" height="15.0"/>
<rect x="1084" y="641.6" width="1" height="17.9"/>
<rect x="1086" y="650.6" width="1" height="8.8"/>
<rect x="1087" y="647.6" width="1" height="11.9"/>
<rect x="1088" y="654.4" width="1" height="5.1"/>
<rect x="1091" y="649.7" width="1" height="9.8"/>
<rect x="1092" y="635.6" width="1" height="23.9"/>
<rect x="1094" y="644.5" width="1" height="15.0"/>
<rect x="1095" y="655.6" width="1" height="3.9"/>
<rect x="1096" y="653.5" width="1" height="6.0"/>
<rect x="1097" y="643.5" width="1" height="16.0"/>
<rect x="1098" y="647.6" width="1" height="11.9"/>
<rect x="1099" y="644.5" width="1" height="15.0"/>
<rect x="1101" y="648.5" width="1" height="11.0"/>
<rect x="1102" y="655.5" width="1" height="4.0"/>
<rect x="1104" y="658.4" width="1" height="1.1"/>
<rect x="1105" y="616.6" width="1" height="42.9"/>
<rect x="1106" y="642.6" width="1" height="16.9"/>
<rect x="1107" y="653.6" width="1" height="5.9"/>
<rect x="1108" y="646.6" width="1" height="12.9"/>
<rect x="1109" y="655.1" width="1" height="4.4"/>
<rect x="1110" y="646.6" width="1" height="12.9"/>
<rect x="1112" y="646.6" width="1" height="12.9"/>
</g>
<g stroke="#000" stroke-width="1.11" fill="none">
<rect x="78.5" y="9.5" width="1085.0" height="476.0"/>
<rect x="78.5" y="500.5" width="1085.0" height="159.0"/>
<path d="M73.6 16.5H78.5"/>
<path d="M73.6 111.5H78.5"/>
<path d="M73.6 207.5H78.5"/>
<path d="M73.6 302.5H78.5"/>
<path d="M73.6 397.5H78.5"/>
<path d="M73.6 543.5H78.5"/>
<path d="M73.6 601.5H78.5"/>
<path d="M73.6 659.5H78.5"/>
<path d="M209.5 485.5v4.9"/>
<path d="M209.5 659.5v4.9"/>
<path d="M399.5 485.5v4.9"/>
<path d="M399.5 659.5v4.9"/>
<path d="M588.5 485.5v4.9"/>
<path d="M588.5 659.5v4.9"/>
<path d="M778.5 485.5v4.9"/>
<path d="M778.5 659.5v4.9"/>
<path d="M968.5 485.5v4.9"/>
<path d="M968.5 659.5v4.9"/>
<path d="M1157.5 485.5v4.9"/>
<path d="M1157.5 659.5v4.9"/>
</g>
<text x="44.4" y="22.0" font-size="12" text-anchor="start" fill="#000" textLength="22.5" lengthAdjust="spacingAndGlyphs">200</text>
<text x="44.4" y="117.0" font-size="12" text-anchor="start" fill="#000" textLength="22.5" lengthAdjust="spacingAndGlyphs">180</text>
<text x="44.4" y="213.0" font-size="12" text-anchor="start" fill="#000" textLength="22.5" lengthAdjust="spacingAndGlyphs">160</text>
<text x="44.4" y="308.0" font-size="12" text-anchor="start" fill="#000" textLength="22.5" lengthAdjust="spacingAndGlyphs">140</text>
<text x="44.4" y="403.0" font-size="12" text-anchor="start" fill="#000" textLength="22.5" lengthAdjust="spacingAndGlyphs">120</text>
<text x="27.1" y="547.9" font-size="12" text-anchor="start" fill="#000" textLength="40.0" lengthAdjust="spacingAndGlyphs">20000</text>
<text x="27.1" y="605.9" font-size="12" text-anchor="start" fill="#000" textLength="40.0" lengthAdjust="spacingAndGlyphs">10000</text>
<text x="60.8" y="664.7" font-size="12" text-anchor="start" fill="#000" textLength="6.8" lengthAdjust="spacingAndGlyphs">0</text>
<text x="182.6" y="679.0" font-size="12" text-anchor="start" fill="#000" textLength="53.2" lengthAdjust="spacingAndGlyphs">2021-01</text>
<text x="372.6" y="679.0" font-size="12" text-anchor="start" fill="#000" textLength="53.2" lengthAdjust="spacingAndGlyphs">2022-01</text>
<text x="561.6" y="679.0" font-size="12" text-anchor="start" fill="#000" textLength="53.2" lengthAdjust="spacingAndGlyphs">2023-01</text>
<text x="751.6" y="679.0" font-size="12" text-anchor="start" fill="#000" textLength="53.2" lengthAdjust="spacingAndGlyphs">2024-01</text>
<text x="941.6" y="679.0" font-size="12" text-anchor="start" fill="#000" textLength="53.2" lengthAdjust="spacingAndGlyphs">2025-01</text>
<text x="1130.6" y="679.0" font-size="12" text-anchor="start" fill="#000" textLength="53.2" lengthAdjust="spacingAndGlyphs">2026-01</text>
<text transform="translate(17.7 604.4) rotate(-90)" font-size="12" textLength="43.6" lengthAdjust="spacingAndGlyphs">Volume</text>
<rect x="85.7" y="17" width="108" height="119.2" rx="3" fill="#fff" fill-opacity="0.8" stroke="#ccc" stroke-opacity="0.8" stroke-width="1.1"/>
<path d="M88.9 25.6H118.8" stroke="#000" stroke-width="2.08" fill="none"/>
<path d="M88.9 45.9H118.8" stroke="#008000" stroke-width="2.08" fill="none"/>
<path d="M88.9 66.8H118.8" stroke="#ff0000" stroke-width="2.08" fill="none"/>
<path d="M88.9 86.1H118.8" stroke="#800080" stroke-width="2.08" fill="none"/>
<path d="M94.3 115.0L104.5 96.2L114.8 115.0Z" fill="#008000"/>
<path d="M94.3 114.2L104.5 134.6L114.8 114.2Z" fill="#ff0000"/>
<text x="130.3" y="31.7" font-size="12" text-anchor="start" fill="#000" textLength="32.3" lengthAdjust="spacingAndGlyphs">Close</text>
<text x="130.3" y="51.8" font-size="12" text-anchor="start" fill="#000" textLength="55.5" lengthAdjust="spacingAndGlyphs">MA50[买]</text>
<text x="130.3" y="72.9" font-size="12" text-anchor="start" fill="#000" textLength="55.5" lengthAdjust="spacingAndGlyphs">MA25[卖]</text>
<text x="130.3" y="91.6" font-size="12" text-anchor="start" fill="#000" textLength="41.1" lengthAdjust="spacingAndGlyphs">MA200</text>
<text x="130.3" y="109.3" font-size="12" text-anchor="start" fill="#000" textLength="19.3" lengthAdjust="spacingAndGlyphs">Buy</text>
<text x="130.3" y="128.6" font-size="12" text-anchor="start" fill="#000" textLength="20.9" lengthAdjust="spacingAndGlyphs">Sell</text>
<rect x="963.3" y="358.6" width="182.8" height="107.2" rx="4.5" fill="#fff" fill-opacity="0.9" stroke="#008000" stroke-width="1.1"/>
<text x="981.4" y="374.3" font-size="14.2" text-anchor="start" fill="#008000" textLength="159.6" lengthAdjust="spacingAndGlyphs">196.97 (+1.63 +0.83%)</text>
<text x="1032.0" y="392.1" font-size="14.2" text-anchor="start" fill="#008000" textLength="109.0" lengthAdjust="spacingAndGlyphs">151.99~197.01</text>
<text x="975.2" y="407.9" font-size="14.2" text-anchor="start" fill="#008000" textLength="165.8" lengthAdjust="spacingAndGlyphs">185.98/184.98/172.83</text>
<text x="1013.4" y="423.5" font-size="14.2" text-anchor="start" fill="#008000" textLength="127.6" lengthAdjust="spacingAndGlyphs">2025-10-08 04:00</text>
<text x="968.7" y="442.5" font-size="14.2" text-anchor="start" fill="#008000" textLength="172.3" lengthAdjust="spacingAndGlyphs">-1.61/偏空/+0.16/+0.07</text>
<text x="1020.9" y="459.2" font-size="14.2" text-anchor="start" fill="#008000" textLength="120.1" lengthAdjust="spacingAndGlyphs">连涨10天 +5.28%</text>
<text x="78.7" y="716.8" font-size="16.4" text-anchor="start" fill="#000" textLength="28.5" lengthAdjust="spacingAndGlyphs">VPU</text>
<text x="112.0" y="717.8" font-size="16.67" text-anchor="start" fill="#000" textLength="65.9" lengthAdjust="spacingAndGlyphs">交易次数</text>
<text x="177.9" y="716.8" font-size="16.4" text-anchor="start" fill="#000">:</text>
<text x="188.5" y="716.8" font-size="16.4" text-anchor="start" fill="#000" textLength="10.1" lengthAdjust="spacingAndGlyphs">3</text>
<text x="78.1" y="737.5" font-size="16.67" text-anchor="start" fill="#000" textLength="99.7" lengthAdjust="spacingAndGlyphs">策略总收益率</text>
<text x="177.9" y="736.5" font-size="16.4" text-anchor="start" fill="#000">:</text>
<text x="188.5" y="736.5" font-size="16.4" text-anchor="start" fill="#000" textLength="55.7" lengthAdjust="spacingAndGlyphs">76.58%</text>
<text x="78.1" y="756.3" font-size="16.67" text-anchor="start" fill="#000" textLength="99.7" lengthAdjust="spacingAndGlyphs">长期持有收益</text>
<text x="177.9" y="755.3" font-size="16.4" text-anchor="start" fill="#000">:</text>
<text x="188.5" y="755.3" font-size="16.4" text-anchor="start" fill="#000" textLength="55.7" lengthAdjust="spacingAndGlyphs">68.15%</text>
<text x="78.1" y="776.0" font-size="16.67" text-anchor="start" fill="#000" textLength="65.4" lengthAdjust="spacingAndGlyphs">交易记录</text>
<text x="143.3" y="775.0" font-size="16.4" text-anchor="start" fill="#000">:</text>
<text x="88.8" y="792.5" font-size="16.4" text-anchor="start" fill="#000" textLength="63.6" lengthAdjust="spacingAndGlyphs">Buy Date</text>
<text x="164.2" y="792.5" font-size="16.4" text-anchor="start" fill="#000" textLength="65.6" lengthAdjust="spacingAndGlyphs">Buy Price</text>
<text x="241.6" y="792.5" font-size="16.4" text-anchor="start" fill="#000" textLength="64.6" lengthAdjust="spacingAndGlyphs">Sell Date</text>
<text x="317.6" y="792.5" font-size="16.4" text-anchor="start" fill="#000" textLength="66.6" lengthAdjust="spacingAndGlyphs">Sell Price</text>
<text x="395.5" y="792.5" font-size="16.4" text-anchor="start" fill="#000" textLength="93.5" lengthAdjust="spacingAndGlyphs">Holding Days</text>
<text x="500.3" y="792.5" font-size="16.4" text-anchor="start" fill="#000" textLength="53.5" lengthAdjust="spacingAndGlyphs">Profit %</text>
<text x="78.2" y="810.1" font-size="16.4" text-anchor="start" fill="#000" textLength="89.6" lengthAdjust="spacingAndGlyphs">2020-12-09</text>
<text x="193.0" y="810.1" font-size="16.4" text-anchor="start" fill="#000" textLength="54.9" lengthAdjust="spacingAndGlyphs">117.14</text>
<text x="252.8" y="810.1" font-size="16.4" text-anchor="start" fill="#000" textLength="89.9" lengthAdjust="spacingAndGlyphs">2022-04-25</text>
<text x="372.3" y="810.1" font-size="16.4" text-anchor="start" fill="#000" textLength="55.4" lengthAdjust="spacingAndGlyphs">142.54</text>
<text x="482.1" y="810.1" font-size="16.4" text-anchor="start" fill="#000" textLength="29.3" lengthAdjust="spacingAndGlyphs">501</text>
<text x="536.8" y="810.1" font-size="16.4" text-anchor="start" fill="#000" textLength="45.4" lengthAdjust="spacingAndGlyphs">21.68</text>
<text x="78.2" y="827.7" font-size="16.4" text-anchor="start" fill="#000" textLength="89.6" lengthAdjust="spacingAndGlyphs">2022-05-02</text>
<text x="193.0" y="827.7" font-size="16.4" text-anchor="start" fill="#000" textLength="54.9" lengthAdjust="spacingAndGlyphs">137.03</text>
<text x="252.8" y="827.7" font-size="16.4" text-anchor="start" fill="#000" textLength="89.9" lengthAdjust="spacingAndGlyphs">2024-10-09</text>
<text x="372.3" y="827.7" font-size="16.4" text-anchor="start" fill="#000" textLength="55.4" lengthAdjust="spacingAndGlyphs">165.02</text>
<text x="482.1" y="827.7" font-size="16.4" text-anchor="start" fill="#000" textLength="29.3" lengthAdjust="spacingAndGlyphs">891</text>
<text x="536.8" y="827.7" font-size="16.4" text-anchor="start" fill="#000" textLength="45.4" lengthAdjust="spacingAndGlyphs">20.43</text>
<text x="78.2" y="845.0" font-size="16.4" text-anchor="start" fill="#000" textLength="89.6" lengthAdjust="spacingAndGlyphs">2024-11-01</text>
<text x="193.0" y="845.0" font-size="16.4" text-anchor="start" fill="#000" textLength="54.9" lengthAdjust="spacingAndGlyphs">163.46</text>
<text x="252.8" y="845.0" font-size="16.4" text-anchor="start" fill="#000" textLength="89.9" lengthAdjust="spacingAndGlyphs">2025-10-08</text>
<text x="372.3" y="845.0" font-size="16.4" text-anchor="start" fill="#000" textLength="55.4" lengthAdjust="spacingAndGlyphs">196.97</text>
<text x="482.1" y="845.0" font-size="16.4" text-anchor="start" fill="#000" textLength="29.3" lengthAdjust="spacingAndGlyphs">341</text>
<text x="536.8" y="845.0" font-size="16.4" text-anchor="start" fill="#000" textLength="45.4" lengthAdjust="spacingAndGlyphs">20.50</text>
</svg>
</body></html>
